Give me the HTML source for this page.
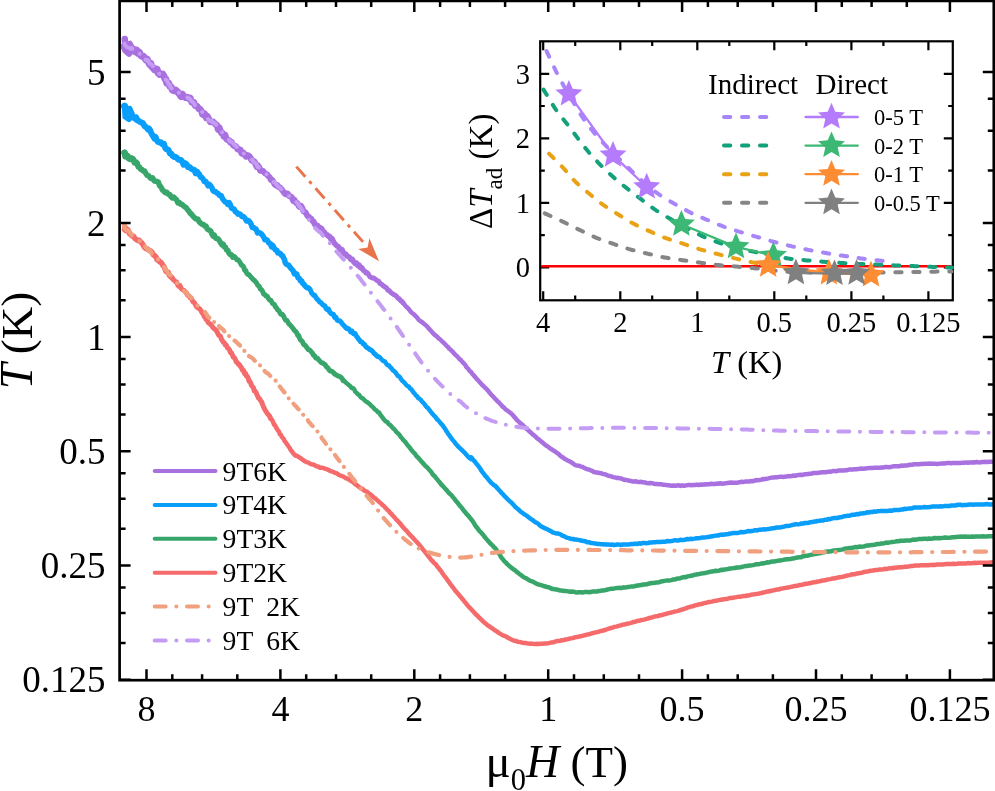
<!DOCTYPE html><html><head><meta charset="utf-8"><style>html,body{margin:0;padding:0;background:#fff;}svg{display:block;will-change:transform;}text{font-family:"Liberation Serif",serif;fill:#000;}</style></head><body>
<svg width="995" height="791" viewBox="0 0 995 791">
<rect x="0" y="0" width="995" height="791" fill="#fff"/>
<g stroke-linecap="round" fill="none"><path d="M124.8,39 L125.6,50.5 L129,53.5" stroke="#A970DF" stroke-width="6.5"/><path d="M130,43 L132.5,50" stroke="#A970DF" stroke-width="5"/><path d="M124.8,106 L125.5,116.5 L129,119" stroke="#0A9EFB" stroke-width="6.2"/><path d="M130,108 L132.5,116" stroke="#0A9EFB" stroke-width="4.5"/><path d="M124.6,152.5 L125.2,156.5" stroke="#38A66A" stroke-width="6"/><path d="M124.6,226 L125.2,230" stroke="#F0A07E" stroke-width="5.5"/></g>
<g fill="none" stroke-linejoin="round" stroke-linecap="round">
<path d="M124.5,106.3 L125.2,107.2 L126.5,110.2 L128.1,109.8" stroke="#0A9EFB" stroke-width="7.0"/>
<path d="M128.1,109.8 L129.7,110.3 L131.2,113.1 L132.6,116.6 L133.8,117.3 L135.0,118.4 L136.1,117.7" stroke="#0A9EFB" stroke-width="6.5"/>
<path d="M136.1,117.7 L137.2,120.3 L138.4,120.7 L139.6,121.6 L141.0,122.4 L142.8,123.1 L144.5,126.1 L145.9,126.9 L147.1,128.2 L148.2,129.6 L149.2,128.7 L150.3,130.6 L151.3,133.3 L152.4,135.1 L153.5,137.0 L154.5,138.6 L155.6,137.0 L156.8,140.3 L158.0,141.9 L159.4,142.4 L160.9,142.2 L162.4,144.3 L163.9,143.8 L165.3,148.1 L166.5,149.2 L167.6,149.5 L168.6,150.0 L169.9,153.6 L171.2,153.5 L172.5,155.9 L173.9,156.9 L175.3,156.8 L176.7,157.6 L178.1,159.4 L179.5,159.9 L180.9,160.0 L182.3,161.7 L183.6,164.7 L185.0,163.1 L186.5,164.2 L188.0,167.2 L189.6,166.9 L191.1,168.7 L192.7,169.4 L194.2,169.8 L195.7,173.2 L197.0,171.6 L198.2,173.7" stroke="#0A9EFB" stroke-width="6.0"/>
<path d="M198.2,173.7 L199.4,174.3 L200.6,177.2 L201.8,177.3 L203.0,178.9 L204.3,181.5 L205.6,181.3 L206.9,183.4 L208.1,185.8 L209.4,184.4 L210.6,185.6 L211.8,187.5 L213.0,190.6 L214.2,191.5 L215.5,191.5 L216.8,193.0 L218.2,193.6 L219.7,195.6 L221.1,195.4 L222.5,198.7 L223.8,200.5 L225.1,201.9 L226.5,202.4 L227.8,204.4 L229.1,202.6 L230.3,204.7 L231.6,208.2 L232.9,208.8 L234.1,209.0 L235.4,211.9 L236.7,212.2 L237.9,214.1 L239.2,213.7 L240.5,214.6 L242.0,216.5 L243.5,216.5 L245.0,218.2 L246.5,221.0 L247.8,220.4 L248.9,220.8 L250.0,222.3 L251.1,224.1 L252.2,227.4 L253.5,227.4 L254.7,228.5 L256.1,229.1 L257.5,232.9 L258.8,232.4 L260.1,233.1 L261.3,233.9 L262.5,235.3 L263.7,237.0 L264.9,239.8 L266.2,239.5 L267.5,240.5 L268.8,243.0 L270.2,243.5 L271.5,246.8 L272.8,245.5 L274.1,247.9 L275.4,249.9 L276.7,250.1 L277.9,253.1 L279.2,252.9 L280.4,253.6 L281.6,255.4 L282.7,255.8 L283.7,258.3 L284.5,259.5 L285.3,262.8 L286.3,264.2 L287.4,264.7 L288.5,264.9 L289.7,266.8 L290.8,268.2 L292.0,269.5 L293.2,270.9 L294.4,273.9 L295.6,273.3 L296.9,274.4 L298.1,278.0 L299.3,278.4 L300.4,280.9 L301.6,280.8 L302.7,283.4 L303.8,284.2 L305.0,285.9 L306.2,287.1 L307.5,287.7" stroke="#0A9EFB" stroke-width="5.5"/>
<path d="M307.5,287.7 L308.8,288.0 L310.1,289.5 L311.4,292.4 L312.5,293.9 L313.7,295.3 L314.8,295.3 L315.9,297.5 L317.1,299.2 L318.3,300.1 L319.5,301.9 L320.8,302.5 L322.1,304.0 L323.4,305.3 L324.7,305.6 L326.0,308.4 L327.3,309.7 L328.5,309.0 L329.8,312.2 L331.1,313.5 L332.3,314.2 L333.4,314.2 L334.6,317.4 L335.8,317.1 L337.1,320.1 L338.4,320.8 L339.7,320.7 L341.1,322.1 L342.5,324.2 L343.8,325.3 L345.1,326.9 L346.4,328.4 L347.8,328.3 L349.1,329.1 L350.6,331.9 L352.0,331.2 L353.5,333.8 L355.0,333.5 L356.3,336.0 L357.4,337.3 L358.4,339.0 L359.4,339.9 L360.6,341.8 L361.9,341.9 L363.2,343.9 L364.6,344.6 L365.9,346.7 L367.2,347.7 L368.6,348.4 L369.9,349.7 L371.2,350.2 L372.6,351.4 L374.0,353.4 L375.4,354.3 L376.8,356.0 L378.2,356.7" stroke="#0A9EFB" stroke-width="5.0"/>
<path d="M378.2,356.7 L379.6,357.2 L381.0,358.6 L382.4,360.4 L383.8,361.2 L385.1,361.7 L386.4,364.0 L387.8,365.2 L389.1,365.5 L390.3,367.4 L391.6,368.4 L392.8,370.3 L394.0,371.0 L395.3,372.2 L396.5,373.9 L397.7,375.8 L398.9,376.1 L400.1,377.5 L401.2,379.4 L402.5,381.0 L403.7,381.9 L404.9,383.2 L406.2,384.9 L407.5,386.0 L408.8,386.5 L410.1,388.6 L411.3,389.3 L412.4,390.8 L413.6,392.7 L414.7,393.7 L415.8,395.4 L417.0,396.2 L418.3,398.2 L419.6,398.8 L420.9,400.0 L422.1,401.6 L423.4,402.8 L424.6,404.3 L425.7,406.0 L426.8,407.2 L428.0,408.1 L429.1,409.7 L430.3,411.2 L431.4,412.6 L432.6,414.1 L433.7,415.3 L434.9,416.4 L436.1,417.9 L437.3,419.6 L438.5,420.6 L439.8,422.1 L441.0,423.6 L442.2,424.8 L443.2,426.3 L444.2,427.7 L445.2,429.0 L446.2,430.9 L447.2,432.2 L448.2,433.9 L449.2,435.0 L450.3,436.8 L451.3,438.2 L452.4,439.6 L453.5,440.9 L454.6,442.1 L455.7,443.9 L456.9,445.0 L458.1,446.6 L459.3,447.6 L460.6,448.8 L461.9,450.0 L463.3,451.6 L464.6,452.5 L465.8,454.2 L467.0,455.3 L468.2,456.8 L469.4,458.0 L470.8,459.0 L471.1,457.2 L472.4,458.7 L473.6,460.4 L474.7,461.3 L475.8,463.0 L476.9,464.2 L478.0,465.6 L479.1,466.9 L480.1,468.4 L481.2,470.4 L482.2,471.8 L483.3,473.2 L484.4,474.7 L485.5,476.2 L486.6,477.1 L487.8,478.8 L488.9,480.1 L490.1,481.5 L491.4,483.0 L492.7,484.0 L494.1,485.3 L495.5,486.0 L496.8,487.6 L498.0,488.9 L499.2,490.3 L500.4,491.5 L501.6,493.0 L502.8,494.0 L504.1,495.7 L505.3,496.7 L506.6,498.1 L507.9,499.5 L509.1,500.7 L510.4,501.7 L511.7,502.9 L513.0,504.3 L514.3,505.7 L515.6,507.2 L516.9,508.3 L518.2,509.3 L519.5,510.5 L520.9,511.9 L522.3,512.7 L523.7,513.9 L525.2,514.7 L526.7,515.8 L528.2,517.0 L529.6,518.1 L531.1,519.1 L532.6,520.0 L534.1,521.4 L535.5,522.2 L537.0,523.0 L538.5,524.0 L539.9,525.6 L541.5,526.5 L543.0,527.4 L544.6,528.1 L546.1,528.8 L547.7,529.5 L549.3,530.4 L551.0,531.2 L552.6,532.3 L554.3,532.9 L556.0,533.4 L557.8,533.4 L559.5,534.0 L561.2,534.8 L562.8,535.9 L564.4,536.3 L566.0,537.3 L567.7,537.9 L569.5,538.3 L571.2,539.0 L573.0,539.0 L574.7,539.5 L576.5,539.6 L578.3,539.9 L580.0,540.2 L581.8,540.8 L583.6,541.0 L585.3,541.3 L587.1,542.3 L588.8,542.2 L590.6,542.9 L592.4,543.1 L594.2,543.4 L595.9,543.6 L597.7,544.0 L599.5,544.1 L601.3,544.2 L603.1,544.2 L604.9,544.4 L606.7,544.6 L608.5,544.6 L610.3,544.7 L612.1,544.5 L613.9,545.0 L615.7,544.8 L617.5,544.5 L619.3,544.6 L621.1,545.0 L622.9,544.5 L624.7,544.5 L626.5,544.6 L628.3,544.6 L630.1,544.2 L631.9,544.1 L633.7,544.0 L635.5,543.6 L637.3,544.0 L639.1,543.3 L640.8,543.7 L642.6,543.1 L644.4,542.9 L646.2,543.2 L648.0,543.0 L649.8,542.5 L651.6,542.5 L653.4,542.3 L655.2,542.3 L657.0,541.9 L658.8,542.1 L660.6,542.0 L662.4,541.7 L664.2,541.7 L666.0,541.5 L667.7,541.0 L669.5,541.2 L671.3,541.0 L673.1,540.7 L674.9,540.2 L676.7,540.4 L678.5,540.4 L680.3,539.8 L682.1,539.9 L683.9,539.9 L685.7,539.5 L687.5,539.0 L689.3,539.2 L691.0,538.8 L692.8,538.9 L694.6,538.6 L696.4,538.2 L698.2,538.3 L700.0,538.0 L701.8,537.6 L703.6,537.6 L705.3,537.4 L707.1,537.1 L708.9,536.9 L710.7,536.5 L712.5,536.2 L714.2,535.9 L716.0,535.6 L717.8,535.6 L719.6,535.0 L721.4,534.6 L723.2,534.8 L724.9,534.4 L726.7,534.2 L728.5,534.0 L730.3,533.5 L732.1,533.3 L733.9,532.9 L735.6,533.1 L737.4,533.0 L739.2,532.6 L741.0,532.0 L742.8,532.3 L744.6,532.0 L746.4,531.6 L748.1,531.0 L749.9,531.3 L751.7,531.0 L753.5,530.7 L755.3,530.2 L757.1,530.4 L758.9,529.8 L760.6,529.8 L762.4,529.4 L764.2,529.3 L766.0,529.4 L767.8,529.1 L769.6,528.9 L771.4,528.4 L773.1,528.2 L774.9,528.0 L776.7,527.4 L778.5,527.4 L780.3,527.4 L782.0,527.0 L783.8,526.7 L785.6,526.1 L787.4,526.0 L789.1,525.8 L790.9,525.4 L792.7,524.9 L794.5,524.5 L796.2,524.1 L798.0,524.4 L799.8,524.1 L801.6,523.5 L803.3,523.5 L805.1,523.0 L806.9,522.9 L808.7,522.8 L810.5,522.2 L812.3,522.1 L814.0,521.6 L815.8,521.5 L817.6,520.9 L819.4,520.8 L821.1,520.5 L822.9,520.6 L824.7,519.8 L826.5,519.8 L828.2,519.1 L830.0,519.3 L831.8,518.5 L833.5,518.1 L835.3,517.9 L837.1,518.0 L838.9,517.5 L840.6,517.3 L842.4,516.8 L844.2,516.2 L845.9,516.1 L847.7,515.8 L849.5,515.8 L851.3,515.0 L853.0,514.7 L854.8,514.8 L856.6,514.0 L858.4,514.3 L860.1,513.6 L861.9,513.4 L863.7,513.2 L865.5,513.1 L867.2,512.3 L869.0,512.5 L870.8,511.9 L872.6,512.0 L874.4,511.4 L876.2,511.7 L878.0,511.2 L879.8,511.1 L881.6,510.9 L883.4,511.0 L885.2,510.9 L887.0,511.1 L888.8,510.8 L890.6,510.5 L892.3,510.7 L894.1,510.1 L895.9,509.9 L897.7,510.1 L899.5,509.9 L901.3,509.5 L903.1,509.4 L904.9,508.7 L906.6,508.9 L908.4,508.6 L910.2,508.4 L912.0,508.3 L913.8,507.6 L915.6,507.5 L917.4,507.4 L919.2,507.4 L921.0,507.4 L922.8,507.3 L924.6,507.1 L926.4,507.3 L928.2,507.2 L930.0,507.1 L931.8,506.6 L933.6,506.6 L935.4,506.6 L937.2,506.5 L939.0,506.6 L940.7,506.3 L942.5,506.4 L944.3,506.1 L946.1,505.9 L947.9,506.0 L949.7,506.0 L951.5,505.4 L953.3,505.4 L955.1,505.6 L956.9,505.0 L958.7,504.8 L960.5,504.8 L962.3,505.2 L964.1,505.0 L965.9,505.1 L967.7,504.8 L969.5,504.5 L971.3,504.6 L973.1,504.8 L974.9,504.6 L976.7,504.4 L978.5,504.5 L980.3,504.5 L982.1,504.4 L983.9,504.4 L985.7,504.2 L987.5,504.1 L989.3,504.5 L991.1,504.5 L992.5,504.3" stroke="#0A9EFB" stroke-width="4.5"/>
<path d="M124.5,152.8 L125.8,155.4 L127.2,155.9 L128.6,158.0" stroke="#38A66A" stroke-width="6.5"/>
<path d="M128.6,158.0 L130.0,159.1 L131.5,158.1 L133.0,159.0 L134.5,162.7 L135.8,162.1 L137.0,163.4" stroke="#38A66A" stroke-width="6.0"/>
<path d="M137.0,163.4 L138.2,167.0 L139.4,166.8 L140.6,169.2 L141.9,169.4 L143.2,171.1 L144.5,170.9 L145.9,173.5 L147.2,175.4 L148.5,175.6 L149.9,177.5 L151.2,178.5 L152.6,177.8 L154.1,180.8 L155.7,181.3 L157.1,181.5 L158.4,182.0 L159.5,185.8 L160.5,186.2 L161.6,188.3 L162.6,190.2 L163.9,191.1 L165.3,192.7 L166.8,192.2 L168.4,194.3 L169.8,194.4 L171.1,196.9 L172.5,198.0 L173.8,197.1 L175.1,198.4 L176.5,199.7 L177.9,202.9 L179.4,202.5 L180.8,204.2 L182.2,204.4 L183.6,206.1 L185.0,206.9 L186.4,208.0 L187.7,209.8 L188.9,211.1 L190.2,213.3 L191.4,214.0 L192.7,215.9 L193.9,217.0 L195.2,218.6 L196.5,219.0 L197.8,218.9 L199.2,221.9 L200.7,223.2 L202.1,224.2 L203.4,224.5 L204.7,226.1 L206.0,226.1 L207.2,229.1 L208.4,229.7 L209.6,230.3 L210.8,231.1 L212.0,234.4 L213.2,236.1 L214.4,235.2 L215.7,238.3 L217.0,238.5 L218.3,239.1 L219.5,240.8 L220.8,243.2 L222.0,244.8 L223.2,244.1 L224.3,246.9 L225.4,246.9 L226.6,250.0 L227.7,250.4 L229.0,253.1 L230.2,254.6 L231.5,254.7 L232.8,257.2 L234.1,256.8" stroke="#38A66A" stroke-width="5.5"/>
<path d="M234.1,256.8 L235.4,257.4 L236.8,259.8 L238.1,259.7 L239.4,261.4 L240.5,263.3 L241.6,265.2 L242.6,265.6 L243.6,266.8 L244.6,270.2 L245.7,270.4 L246.8,273.3 L248.0,274.5 L249.1,274.7 L250.3,276.3 L251.5,277.7 L252.8,279.2 L254.2,280.3 L255.4,281.5 L256.6,283.0 L257.7,285.2 L258.6,285.8 L259.6,287.1 L260.5,289.3 L261.5,289.7 L262.6,291.3 L263.7,294.2 L264.9,294.6 L266.1,296.0 L267.2,296.2 L268.4,298.4 L269.6,300.1 L270.9,300.2 L272.1,302.8 L273.3,304.2 L274.4,304.4 L275.5,307.0 L276.6,308.1 L277.7,310.0 L278.8,310.7 L279.9,312.9 L281.1,314.3 L282.2,314.2 L283.4,315.7 L284.5,318.3 L285.7,320.3 L286.8,320.3 L287.9,322.1 L288.9,323.9 L290.0,324.7 L291.2,326.2 L292.3,327.5 L293.5,329.0 L294.7,330.8 L295.8,331.6 L296.9,333.2 L297.8,335.5 L298.7,335.6 L299.6,338.2 L300.6,340.1 L301.6,340.7 L302.6,342.0 L303.7,344.6 L304.8,345.0 L305.9,346.2 L307.1,348.1 L308.4,349.8 L309.7,349.9 L311.0,351.6 L312.3,352.9 L313.4,355.2 L314.6,355.8 L315.8,357.9 L317.1,358.0 L318.4,359.5 L319.9,361.1 L321.3,362.6 L322.7,363.0 L324.0,363.8 L325.3,364.9 L326.5,367.0 L327.8,367.7 L329.1,369.9 L330.4,371.1 L331.8,371.2 L333.3,372.4 L334.8,374.3 L336.3,374.9 L337.9,376.0 L339.4,376.3 L340.8,377.1 L342.1,378.6 L343.3,380.7" stroke="#38A66A" stroke-width="5.0"/>
<path d="M343.3,380.7 L344.5,381.2 L345.9,382.6 L347.3,383.8 L348.7,384.9 L350.1,386.0 L351.5,387.9 L352.8,388.0 L354.1,389.1 L355.3,391.7 L356.6,392.9 L357.8,394.3 L359.1,394.9 L360.4,396.8 L361.6,398.0 L363.0,398.4 L364.4,400.1 L365.8,401.3 L367.2,402.2 L368.6,403.2 L369.9,404.2 L371.1,405.6 L372.4,406.7 L373.6,407.8 L375.0,409.6 L376.4,410.4 L377.8,412.1 L379.1,412.5 L380.3,414.8 L381.4,415.9 L382.5,417.6 L383.6,419.0 L384.8,420.4 L386.0,421.4 L387.3,422.1 L388.6,424.0 L389.9,424.7 L391.2,426.1 L392.5,427.7 L393.8,428.8 L395.0,430.0 L396.2,431.8 L397.4,432.9 L398.6,434.0 L399.8,435.3 L400.9,437.2 L402.1,438.3 L403.2,439.9 L404.3,441.0 L405.5,442.2 L406.6,443.9 L407.8,445.5 L408.9,446.4 L410.1,448.2 L411.2,449.7 L412.3,451.0 L413.5,452.4 L414.6,453.3 L415.8,455.1 L416.9,456.6 L418.1,457.5 L419.3,459.0 L420.5,460.3 L421.7,461.8 L422.9,463.1 L424.1,464.4 L425.3,465.9 L426.6,466.8 L427.8,468.1 L429.0,469.5 L430.2,470.8 L431.4,472.2 L432.5,474.1 L433.7,475.4 L434.8,476.3 L436.0,478.0 L437.1,479.2 L438.2,480.6 L439.4,482.0 L440.5,483.6 L441.7,484.9 L442.9,486.2 L444.1,487.4 L445.3,488.8 L446.6,490.0 L447.8,491.6 L449.0,493.0 L450.2,494.1 L451.4,495.2 L452.6,496.7 L453.8,498.1 L455.0,499.6 L456.1,501.1 L457.3,502.3 L458.4,503.9 L459.5,505.2 L460.6,506.5 L461.8,507.9 L462.9,509.4 L464.0,510.9 L465.2,512.1 L466.3,513.7 L467.5,514.9 L468.7,516.1 L469.8,517.7 L471.0,519.2 L472.0,520.2 L473.1,521.9 L474.1,523.4 L475.1,525.2 L476.1,526.7 L477.2,527.8 L478.3,529.5 L479.4,530.9 L480.6,531.9 L481.8,533.4 L483.0,534.6 L484.1,536.3 L485.3,537.6 L486.5,539.1 L487.6,540.4 L488.8,541.7 L490.0,543.1 L491.2,544.3 L492.5,545.4 L493.7,547.0 L494.9,547.9 L496.1,549.4 L497.2,551.2 L498.2,552.3 L499.1,553.8 L500.1,555.3 L501.1,557.3 L502.1,558.4 L503.2,559.7 L504.5,561.5 L505.7,562.3 L507.1,564.0 L508.4,565.1 L509.8,566.4 L511.1,567.6 L512.5,568.5 L514.0,569.7 L515.4,570.4 L516.8,572.0 L518.2,572.9 L519.6,574.2 L521.0,574.9 L522.5,576.3 L524.0,577.4 L525.5,577.8 L527.1,578.9 L528.7,579.9 L530.3,580.9 L531.9,581.3 L533.5,582.1 L535.1,582.9 L536.8,583.8 L538.5,584.5 L540.2,584.9 L541.9,585.4 L543.6,586.0 L545.3,586.5 L547.1,587.0 L548.8,587.3 L550.5,588.1 L552.2,588.9 L554.0,589.0 L555.7,589.6 L557.5,589.6 L559.3,590.3 L561.0,590.6 L562.8,590.7 L564.6,590.9 L566.4,591.1 L568.2,591.4 L570.0,591.8 L571.8,591.5 L573.5,591.7 L575.3,592.2 L577.1,592.5 L578.9,592.3 L580.7,592.3 L582.5,592.5 L584.3,592.1 L586.1,592.1 L587.9,592.0 L589.7,592.2 L591.5,591.8 L593.3,591.6 L595.1,591.6 L596.9,591.5 L598.7,590.9 L600.4,590.9 L602.2,590.4 L604.0,590.4 L605.8,590.0 L607.5,589.5 L609.3,589.1 L611.1,588.7 L612.9,588.7 L614.7,588.4 L616.4,588.1 L618.2,588.0 L620.0,587.8 L621.8,587.9 L623.6,587.3 L625.4,587.6 L627.2,587.1 L629.0,586.9 L630.7,586.6 L632.5,586.5 L634.3,586.2 L636.1,585.8 L637.9,585.5 L639.6,585.3 L641.4,585.1 L643.2,584.5 L645.0,584.5 L646.7,584.3 L648.5,583.7 L650.3,583.3 L652.1,583.0 L653.8,583.0 L655.6,582.6 L657.4,582.5 L659.2,582.2 L660.9,581.5 L662.7,581.2 L664.5,580.9 L666.3,580.6 L668.0,580.6 L669.8,580.4 L671.6,580.1 L673.4,579.4 L675.1,579.4 L676.9,578.7 L678.7,578.4 L680.4,578.2 L682.2,577.5 L683.9,577.1 L685.7,577.2 L687.5,576.4 L689.2,576.1 L691.0,575.8 L692.7,575.5 L694.5,574.7 L696.2,574.5 L698.0,574.2 L699.8,573.9 L701.5,573.4 L703.3,573.3 L705.1,573.1 L706.8,572.5 L708.6,572.2 L710.4,571.7 L712.1,571.4 L713.9,571.3 L715.7,570.7 L717.5,570.9 L719.2,570.6 L721.0,569.8 L722.8,570.0 L724.6,569.4 L726.3,569.3 L728.1,569.0 L729.9,568.5 L731.7,568.4 L733.5,568.1 L735.2,568.0 L737.0,567.4 L738.8,567.4 L740.6,567.2 L742.4,566.8 L744.1,566.4 L745.9,565.9 L747.7,565.9 L749.5,565.5 L751.2,565.4 L753.0,565.1 L754.8,564.7 L756.6,564.2 L758.3,564.2 L760.1,563.9 L761.9,563.3 L763.7,563.4 L765.4,562.9 L767.2,562.3 L769.0,562.5 L770.8,561.7 L772.5,561.5 L774.3,561.5 L776.1,561.1 L777.9,560.8 L779.6,560.6 L781.4,560.2 L783.2,559.9 L785.0,559.5 L786.8,559.2 L788.5,559.3 L790.3,559.0 L792.1,558.6 L793.9,558.4 L795.6,557.9 L797.4,557.5 L799.2,557.3 L801.0,557.2 L802.7,556.3 L804.5,556.2 L806.2,555.7 L808.0,555.7 L809.8,555.0 L811.5,554.7 L813.3,554.3 L815.0,554.1 L816.8,553.8 L818.6,553.3 L820.4,553.2 L822.1,552.5 L823.9,552.2 L825.7,551.8 L827.4,551.5 L829.2,551.6 L831.0,551.3 L832.8,550.7 L834.5,550.4 L836.3,550.2 L838.1,550.1 L839.9,549.9 L841.6,549.6 L843.4,549.2 L845.2,548.6 L847.0,548.5 L848.8,548.1 L850.5,548.1 L852.3,547.8 L854.1,547.3 L855.9,547.1 L857.7,547.2 L859.4,546.5 L861.2,546.7 L863.0,546.5 L864.8,546.2 L866.6,545.6 L868.4,545.5 L870.1,545.2 L871.9,545.0 L873.7,544.9 L875.5,544.5 L877.3,544.0 L879.0,544.1 L880.8,543.6 L882.6,543.4 L884.4,543.2 L886.2,542.5 L887.9,542.7 L889.7,542.4 L891.5,542.1 L893.3,541.9 L895.1,541.6 L896.9,541.2 L898.7,541.2 L900.4,540.8 L902.2,540.8 L904.0,540.7 L905.8,540.5 L907.6,540.4 L909.4,540.4 L911.2,540.2 L913.0,539.6 L914.8,539.8 L916.6,539.6 L918.4,539.1 L920.2,539.1 L922.0,538.9 L923.8,538.7 L925.6,538.8 L927.3,539.0 L929.1,538.5 L930.9,538.7 L932.7,538.5 L934.5,538.0 L936.3,538.3 L938.1,538.1 L939.9,538.2 L941.7,537.9 L943.5,537.8 L945.3,537.5 L947.1,537.7 L948.9,537.7 L950.7,537.5 L952.5,537.2 L954.3,537.3 L956.1,537.1 L957.9,536.8 L959.7,536.7 L961.5,536.6 L963.3,536.7 L965.1,536.6 L966.9,536.7 L968.7,536.8 L970.5,536.7 L972.3,536.6 L974.1,536.7 L975.9,536.4 L977.7,536.5 L979.5,536.6 L981.3,536.4 L983.1,536.2 L984.9,536.6 L986.7,536.4 L988.5,536.2 L990.3,536.2 L992.1,536.2 L992.5,536.3" stroke="#38A66A" stroke-width="4.5"/>
<path d="M124.5,46.5 L125.3,48.2 L126.5,46.9 L128.0,46.3" stroke="#A970DF" stroke-width="8.0"/>
<path d="M128.0,46.3 L129.8,45.4 L131.6,49.4 L133.2,49.2 L134.8,51.3 L136.4,50.5" stroke="#A970DF" stroke-width="7.5"/>
<path d="M136.4,50.5 L137.9,53.2 L139.3,52.1 L140.8,55.5 L142.1,56.4 L143.4,56.2 L144.7,58.0 L146.0,59.9 L147.2,59.1 L148.4,62.0 L149.6,64.5 L150.8,63.5 L152.0,67.1 L153.2,67.9 L154.5,69.8 L155.8,69.0 L157.1,69.2 L158.4,73.4 L159.8,74.6 L161.2,74.2 L162.5,73.9 L163.8,75.7 L164.9,78.9 L165.9,79.0 L166.8,83.2 L167.8,83.3 L168.7,83.2 L169.8,86.5 L171.0,86.7 L172.4,90.1 L174.0,90.8 L175.6,90.0 L177.1,91.5 L178.5,92.9 L179.8,94.6 L181.0,96.5" stroke="#A970DF" stroke-width="7.0"/>
<path d="M181.0,96.5 L182.4,93.9 L183.9,96.2 L185.6,97.8 L187.3,97.1 L189.0,98.9 L190.4,98.0 L191.6,102.4 L192.8,102.4 L194.0,102.2 L195.1,105.7 L196.3,105.7 L197.5,106.5 L198.8,109.0 L200.0,109.0 L201.2,110.6 L202.4,114.4 L203.7,115.1 L204.9,113.8 L206.2,118.0 L207.5,116.3 L208.8,118.7 L210.2,121.9 L211.7,121.9 L213.2,121.8 L214.6,123.2 L215.8,124.6 L216.9,125.0 L218.1,129.6 L219.2,127.5 L220.3,130.3 L221.4,132.9 L222.6,133.0 L223.8,136.4 L225.1,135.0 L226.4,138.9 L227.7,139.9 L229.0,140.3 L230.3,142.4 L231.5,142.0 L232.8,144.7 L234.1,145.8 L235.4,146.1 L236.6,147.2 L237.8,149.4 L239.1,149.6 L240.3,149.8 L241.7,153.3 L243.1,152.7 L244.6,154.5 L246.1,156.5 L247.6,155.4 L249.0,156.1 L250.3,157.6 L251.7,160.4 L253.0,160.8 L254.3,161.7 L255.5,163.7 L256.7,166.6 L257.9,165.7 L259.1,167.6 L260.4,170.4" stroke="#A970DF" stroke-width="6.5"/>
<path d="M260.4,170.4 L261.7,170.8 L263.0,170.9 L264.4,172.7 L265.7,173.9 L267.0,174.1 L268.3,176.1 L269.6,177.1 L270.9,180.0 L272.1,179.8 L273.4,182.1 L274.7,184.4 L275.9,185.5 L277.2,185.0 L278.5,187.0 L279.8,187.4 L281.1,188.8 L282.4,190.3 L283.8,192.5 L285.2,194.1 L286.5,193.3 L287.8,193.6 L289.2,196.2 L290.5,196.2 L291.8,197.3 L293.2,200.8 L294.6,199.9 L296.0,202.9 L297.4,203.0 L298.6,206.0 L299.9,207.0 L301.1,206.0 L302.2,207.8 L303.4,211.3 L304.6,211.7 L305.7,212.6 L306.9,215.0 L308.0,216.5 L309.1,217.0 L310.2,218.4 L311.3,218.8 L312.4,220.9 L313.6,221.6 L314.8,224.3 L316.1,225.5 L317.4,225.5 L318.7,228.0 L320.1,227.8 L321.5,228.9" stroke="#A970DF" stroke-width="6.0"/>
<path d="M321.5,228.9 L323.0,231.4 L324.4,232.0 L325.7,234.3 L327.1,234.9 L328.3,236.3 L329.6,236.2 L330.8,239.2 L332.1,238.7 L333.3,241.3 L334.5,243.4 L335.7,244.7 L336.9,246.0 L338.1,246.3 L339.3,248.1 L340.6,249.6 L341.9,249.4 L343.2,252.5 L344.5,253.7 L345.7,253.9 L347.0,255.9 L348.3,256.5 L349.6,257.4 L350.9,259.5 L352.3,259.3 L353.7,261.9 L355.1,263.4 L356.5,263.1 L357.9,265.6 L359.2,265.1 L360.5,267.8 L361.9,267.9" stroke="#A970DF" stroke-width="5.5"/>
<path d="M361.9,267.9 L363.2,270.5 L364.5,270.7 L365.7,272.9 L367.0,272.6 L368.3,273.9 L369.6,276.5 L371.0,277.3 L372.5,278.1 L374.0,278.1 L375.6,279.4 L377.1,280.7 L378.6,281.1 L380.1,283.6 L381.6,284.3 L383.0,285.7 L384.3,286.5 L385.6,287.3 L386.8,288.2 L388.1,290.4 L389.4,290.7 L390.8,292.5 L392.2,293.5 L393.7,294.6 L395.1,295.1 L396.5,296.3 L397.8,298.1 L399.2,298.7 L400.5,300.5 L401.8,301.3 L403.0,302.8" stroke="#A970DF" stroke-width="5.0"/>
<path d="M403.0,302.8 L404.2,304.0 L405.4,305.9 L406.6,307.0 L407.8,308.1 L409.0,309.4 L410.3,311.1 L411.6,312.7 L412.8,313.5 L414.1,314.5 L415.4,315.9 L416.7,317.1 L417.9,318.7 L419.2,320.2 L420.5,321.2 L421.9,322.0 L423.3,323.2 L424.8,324.4 L426.2,325.6 L427.5,326.8 L428.7,328.6 L429.9,329.6 L431.1,331.0 L432.3,332.4 L433.5,333.6 L434.8,335.0 L436.2,335.9 L437.5,337.2 L438.9,338.6 L440.2,339.4 L441.5,340.9 L442.8,342.0 L444.0,343.1 L445.3,344.3 L446.6,346.0 L447.9,346.9 L449.1,348.6 L450.4,349.5 L451.7,350.9 L452.9,352.0 L454.2,353.6 L455.5,355.0 L456.7,355.9 L458.0,357.4 L459.3,358.9 L460.6,359.8 L461.8,361.2 L463.1,362.6 L464.4,364.0 L465.4,365.0 L466.2,366.9 L467.3,367.9 L468.5,369.3 L469.8,371.1 L471.0,371.9 L472.2,373.7 L473.4,375.0 L474.5,376.3 L475.7,377.7 L476.8,379.1 L478.0,380.2 L479.2,381.7 L480.4,382.8 L481.7,384.5 L483.0,385.7 L484.3,386.9 L485.5,387.9 L486.8,389.4 L488.0,390.6 L489.2,392.2 L490.4,393.6 L491.6,395.1 L492.8,396.2 L494.0,397.5 L495.2,398.9 L496.4,399.9 L497.6,401.5 L498.9,402.4 L500.1,403.9 L501.4,405.1 L502.7,406.8 L504.0,407.5 L505.3,409.2 L506.8,410.3 L508.2,411.1 L509.6,412.4 L511.0,413.2 L512.2,414.5 L513.4,415.8 L514.6,417.2 L515.8,418.5 L517.0,420.3 L518.3,421.1 L519.6,422.6 L521.0,423.6 L522.3,424.7 L523.7,426.1 L525.0,427.2 L526.4,428.8 L527.7,429.7 L529.0,431.0 L530.4,432.2 L531.7,433.5 L533.0,434.6 L534.4,435.6 L535.7,436.7 L537.1,438.4 L538.5,439.1 L539.9,440.4 L541.3,441.7 L542.7,442.7 L544.1,444.0 L545.5,445.1 L546.9,446.0 L548.4,446.9 L549.9,448.2 L551.4,449.1 L552.9,450.2 L554.4,451.0 L555.9,452.1 L557.4,453.2 L558.8,454.2 L560.1,455.6 L561.5,456.7 L563.0,457.4 L564.5,458.8 L566.1,459.6 L567.6,460.5 L569.2,461.1 L570.7,462.0 L572.2,462.9 L573.7,464.0 L575.3,465.1 L577.0,465.5 L578.8,465.7 L580.5,466.3 L582.2,466.8 L583.9,467.7 L585.6,468.5 L587.2,469.3 L588.9,469.5 L590.6,470.3 L592.2,470.9 L593.9,472.0 L595.7,472.4 L597.4,472.5 L599.2,473.1 L601.0,473.2 L602.7,473.9 L604.4,474.2 L606.1,474.7 L607.8,475.6 L609.6,476.0 L611.3,476.4 L613.0,477.1 L614.8,477.4 L616.5,477.9 L618.3,477.8 L620.0,478.3 L621.8,478.7 L623.5,479.5 L625.3,480.0 L627.0,480.0 L628.8,480.7 L630.5,480.8 L632.3,481.4 L634.1,481.6 L635.9,481.3 L637.7,481.9 L639.5,481.9 L641.3,481.8 L643.0,482.3 L644.8,482.4 L646.6,483.0 L648.4,483.3 L650.2,483.0 L652.0,483.2 L653.8,483.7 L655.6,484.0 L657.3,484.1 L659.1,484.2 L660.9,484.2 L662.7,484.7 L664.5,484.8 L666.3,485.1 L668.1,485.2 L669.9,485.4 L671.7,485.7 L673.5,485.6 L675.3,485.8 L677.1,485.5 L678.9,485.3 L680.7,485.9 L682.5,485.3 L684.3,485.8 L686.1,485.4 L687.9,485.1 L689.7,485.1 L691.5,485.3 L693.3,485.0 L695.1,485.0 L696.8,484.6 L698.6,485.0 L700.4,484.6 L702.2,484.8 L704.0,484.3 L705.8,484.5 L707.6,484.3 L709.4,484.2 L711.2,483.8 L713.0,484.0 L714.8,484.1 L716.6,483.6 L718.4,483.7 L720.2,483.3 L722.0,483.7 L723.8,483.6 L725.6,483.3 L727.4,483.1 L729.2,482.7 L731.0,482.6 L732.8,482.8 L734.6,482.7 L736.4,482.7 L738.2,482.5 L740.0,482.1 L741.8,481.8 L743.5,481.9 L745.3,481.6 L747.1,481.5 L748.9,481.5 L750.7,481.1 L752.5,481.2 L754.3,480.8 L756.1,480.1 L757.8,480.3 L759.6,480.0 L761.4,479.6 L763.2,479.0 L764.9,479.2 L766.7,478.7 L768.5,478.4 L770.3,477.9 L772.1,477.6 L773.9,477.4 L775.6,477.3 L777.4,477.2 L779.2,476.9 L781.0,476.6 L782.8,476.9 L784.6,476.7 L786.4,476.6 L788.2,476.1 L790.0,476.2 L791.8,476.0 L793.6,475.5 L795.3,475.8 L797.1,475.2 L798.9,474.9 L800.7,474.7 L802.5,475.0 L804.3,474.3 L806.1,474.2 L807.9,474.1 L809.6,473.7 L811.4,473.7 L813.2,473.1 L815.0,473.1 L816.8,473.0 L818.6,472.8 L820.4,472.6 L822.2,472.2 L824.0,472.3 L825.7,472.3 L827.5,471.8 L829.3,471.7 L831.1,471.6 L832.9,471.1 L834.7,471.0 L836.5,471.2 L838.3,470.6 L840.1,470.5 L841.9,470.4 L843.7,470.6 L845.5,470.2 L847.2,470.2 L849.0,469.6 L850.8,469.5 L852.6,469.6 L854.4,469.3 L856.2,469.3 L858.0,469.1 L859.8,468.7 L861.6,468.6 L863.4,468.7 L865.2,468.6 L867.0,468.2 L868.8,468.1 L870.6,467.9 L872.4,467.9 L874.2,467.8 L876.0,467.7 L877.8,467.7 L879.6,467.8 L881.4,467.6 L883.2,467.5 L884.9,467.1 L886.7,467.1 L888.5,467.2 L890.3,467.1 L892.1,466.6 L893.9,466.3 L895.7,466.2 L897.5,466.3 L899.3,466.3 L901.1,465.6 L902.9,465.8 L904.7,465.5 L906.5,465.5 L908.2,465.3 L910.0,464.6 L911.8,464.9 L913.6,464.3 L915.4,464.2 L917.2,464.2 L919.0,464.2 L920.8,463.9 L922.6,463.9 L924.4,463.8 L926.2,463.8 L928.0,463.7 L929.8,463.6 L931.6,463.7 L933.4,463.7 L935.2,463.7 L937.0,463.9 L938.8,463.7 L940.6,463.6 L942.4,463.4 L944.2,463.5 L946.0,463.2 L947.8,463.1 L949.6,463.0 L951.4,463.3 L953.2,462.9 L955.0,462.9 L956.8,462.9 L958.6,462.9 L960.4,462.9 L962.2,462.8 L964.0,462.8 L965.8,462.4 L967.6,462.8 L969.4,462.6 L971.2,462.4 L973.0,462.3 L974.8,462.4 L976.6,462.0 L978.4,462.3 L980.2,462.4 L982.0,462.0 L983.8,462.0 L985.6,461.8 L987.4,462.1 L989.2,461.7 L991.0,461.7 L992.5,461.8" stroke="#A970DF" stroke-width="4.5"/>
<path d="M124.5,43.6 L125.2,45.3 L126.1,46.3 L127.2,47.3 L128.6,47.7 L130.1,48.7 L131.6,47.9 L132.4,49.0M139.7,53.7 L139.7,53.7M145.6,59.7 L146.0,60.0 L147.0,60.7 L148.0,60.0 L149.0,62.4 L150.0,63.9 L151.0,64.2 L152.0,65.1 L152.8,66.1M159.2,73.8 L159.2,73.8M165.8,79.7 L166.5,80.2 L167.3,81.2 L168.1,82.9 L168.9,84.6 L169.8,84.8 L170.7,87.5 L171.7,88.4M178.8,92.7 L178.8,92.7M187.4,97.5 L188.2,97.9 L189.5,98.6 L190.6,99.9 L191.6,101.3 L192.6,101.8 L193.6,102.8 L194.6,104.4 L194.9,105.1M202.2,112.0 L202.2,112.0M208.1,119.2 L209.0,120.5 L210.2,121.0 L211.5,120.5 L212.7,122.4 L213.9,122.5 L215.0,123.4 L216.0,124.2 L216.2,124.8M222.1,132.3 L222.1,132.3M228.9,139.8 L229.0,140.0 L230.1,141.6 L231.1,141.8 L232.2,142.1 L233.2,143.4 L234.3,144.8 L235.4,145.3 L236.4,146.4 L236.7,146.9M243.7,153.6 L243.7,153.6M251.8,159.7 L252.3,159.9 L253.4,161.4 L254.5,162.4 L255.5,163.2 L256.5,164.3 L257.5,166.9 L258.5,166.9 L258.8,167.3M266.5,174.3 L266.5,174.3M273.5,182.1 L273.6,182.1 L274.7,182.2 L275.7,183.7 L276.8,184.5 L277.8,186.4 L278.9,187.0 L280.0,188.0 L281.1,188.8 L281.4,189.1M289.1,195.9 L289.1,195.9M296.5,202.2 L297.0,202.5 L298.0,203.9 L298.9,205.5 L299.8,206.7 L300.7,207.7 L301.5,208.9 L302.4,210.3 L302.8,211.1M308.9,219.7 L308.9,219.8M315.1,228.0 L315.7,228.4 L316.7,229.7 L317.8,230.5 L318.9,231.7 L320.0,231.9 L321.0,233.1 L322.0,234.6 L322.8,235.6M329.8,243.3 L329.8,243.3M336.5,251.5 L336.6,251.6 L337.6,252.8 L338.6,253.8 L339.6,255.0 L340.6,256.1 L341.6,257.2 L342.6,258.4 L343.6,259.5 L343.8,259.7M350.8,267.7 L350.8,267.7M357.7,275.8 L358.3,276.5 L359.2,277.6 L360.2,278.8 L361.1,280.0 L362.0,281.2 L362.9,282.4 L363.8,283.6 L364.5,284.4M370.9,292.8 L370.9,292.8M377.5,301.2 L377.6,301.4 L378.5,302.5 L379.5,303.7 L380.4,304.9 L381.3,306.1 L382.2,307.3 L383.1,308.5 L384.0,309.7 L384.2,309.9M390.6,318.4 L390.6,318.4M396.8,326.9 L397.4,327.8 L398.2,329.0 L399.1,330.2 L399.9,331.5 L400.8,332.7 L401.6,334.0 L402.5,335.2 L403.0,336.0M409.1,344.7 L409.1,344.7M415.2,353.4 L415.3,353.7 L416.2,354.9 L417.0,356.1 L417.9,357.3 L418.8,358.6 L419.6,359.8 L420.5,361.0 L421.4,362.2 L421.5,362.4M428.1,370.7 L428.1,370.7M435.0,378.8 L435.7,379.6 L436.7,380.7 L437.8,381.8 L438.8,382.9 L439.8,383.9 L440.9,385.0 L442.0,386.1 L442.6,386.7M450.3,394.0 L450.3,394.0M458.7,400.5 L459.0,400.6 L460.3,401.5 L461.4,402.4 L462.5,403.4 L463.5,404.5 L464.6,405.5 L465.8,406.5 L467.0,407.4 L467.1,407.5M476.0,413.2 L476.0,413.2M485.4,418.2 L486.5,418.6 L487.8,419.2 L489.2,419.7 L490.6,420.3 L492.1,420.8 L493.5,421.3 L494.9,421.7 L495.7,422.0M505.9,424.8 L505.9,424.8M516.3,426.8 L516.8,426.8 L518.3,427.1 L519.8,427.2 L521.2,427.4 L522.7,427.6 L524.2,427.7 L525.7,427.9 L527.2,428.0 L527.3,428.0M537.9,428.5 L537.9,428.5M548.5,428.8 L549.7,428.8 L551.2,428.8 L552.7,428.8 L554.2,428.8 L555.7,428.8 L557.2,428.8 L558.7,428.8 L559.5,428.8M570.1,428.6 L570.1,428.6M580.7,428.3 L581.2,428.3 L582.7,428.3 L584.2,428.2 L585.7,428.2 L587.2,428.2 L588.7,428.2 L590.2,428.1 L591.7,428.1M602.3,427.9 L602.3,427.9M612.9,427.8 L614.2,427.8 L615.7,427.8 L617.2,427.8 L618.7,427.8 L620.2,427.8 L621.7,427.8 L623.2,427.8 L623.9,427.8M634.5,427.9 L634.5,427.9M645.1,428.0 L645.7,428.0 L647.2,428.0 L648.7,428.0 L650.2,428.0 L651.7,428.0 L653.2,428.0 L654.7,428.1 L656.1,428.1M666.7,428.2 L666.7,428.2M677.3,428.3 L678.7,428.4 L680.2,428.4 L681.7,428.4 L683.2,428.4 L684.7,428.4 L686.2,428.5 L687.7,428.5 L688.3,428.5M698.9,428.7 L698.9,428.7M709.5,428.8 L710.2,428.8 L711.7,428.9 L713.2,428.9 L714.7,428.9 L716.2,428.9 L717.7,429.0 L719.2,429.0 L720.5,429.0M731.1,429.2 L731.1,429.2M741.7,429.4 L743.2,429.5 L744.7,429.5 L746.2,429.6 L747.7,429.6 L749.2,429.7 L750.7,429.7 L752.2,429.8 L752.7,429.8M763.3,430.3 L763.3,430.3M773.9,430.6 L774.7,430.6 L776.2,430.6 L777.7,430.6 L779.2,430.7 L780.7,430.7 L782.2,430.7 L783.7,430.8 L784.9,430.8M795.5,430.9 L795.5,430.9M806.1,431.0 L806.1,431.0 L807.6,431.1 L809.1,431.1 L810.6,431.1 L812.1,431.1 L813.6,431.1 L815.1,431.1 L816.6,431.1 L817.1,431.2M827.7,431.3 L827.7,431.3M838.3,431.4 L839.1,431.4 L840.6,431.4 L842.1,431.4 L843.6,431.5 L845.1,431.5 L846.6,431.5 L848.1,431.5 L849.3,431.5M859.9,431.7 L859.9,431.7M870.5,431.8 L870.6,431.8 L872.1,431.9 L873.6,431.9 L875.1,431.9 L876.6,431.9 L878.1,431.9 L879.6,431.9 L881.1,431.9 L881.5,432.0M892.1,432.0 L892.1,432.0M902.7,432.1 L903.6,432.1 L905.1,432.2 L906.6,432.2 L908.1,432.2 L909.6,432.2 L911.1,432.2 L912.6,432.2 L913.7,432.2M924.3,432.3 L924.3,432.3M934.9,432.4 L935.1,432.4 L936.6,432.4 L938.1,432.4 L939.6,432.4 L941.1,432.4 L942.6,432.4 L944.1,432.4 L945.6,432.5 L945.9,432.5M956.5,432.5 L956.5,432.5M967.1,432.6 L968.1,432.6 L969.6,432.6 L971.1,432.6 L972.6,432.7 L974.1,432.7 L975.6,432.7 L977.1,432.7 L978.1,432.7M988.7,432.8 L988.7,432.8" stroke="#C49CF3" stroke-width="4"/>
<path d="M124.5,229.4 L125.8,230.6 L127.1,229.2 L128.4,230.5 L129.7,233.9 L131.0,234.9 L132.2,236.0 L133.5,236.3 L134.8,238.3 L136.2,239.5 L137.7,240.4 L139.2,240.2 L140.7,242.0 L142.0,243.1 L143.3,245.3 L144.5,247.4 L145.7,248.6 L147.0,248.7 L148.3,249.7 L149.5,250.5 L150.8,251.1 L152.1,252.4 L153.4,254.9 L154.7,255.7 L156.0,257.1 L157.2,259.8 L158.4,260.2 L159.5,261.7 L160.6,262.2 L161.7,263.1 L162.8,265.4 L163.9,266.3 L164.9,268.7 L166.0,271.4 L167.1,272.0 L168.2,272.2 L169.4,275.4 L170.5,276.5 L171.8,277.6" stroke="#F56B6B" stroke-width="5.5"/>
<path d="M171.8,277.6 L173.0,279.4 L174.2,280.3 L175.4,281.7 L176.6,282.0 L177.7,285.0 L178.9,286.3 L180.0,285.7 L181.2,288.5 L182.5,289.7 L183.8,290.3 L185.1,291.7 L186.4,292.9 L187.6,295.3 L188.8,295.6 L190.0,297.7 L191.2,298.0 L192.3,300.6 L193.3,302.1 L194.3,302.6 L195.3,304.4 L196.4,306.6 L197.5,307.5 L198.7,308.3 L199.9,309.1 L201.0,310.7 L202.1,313.0 L203.1,313.3 L204.1,316.5 L205.1,316.6 L206.0,319.5 L207.1,319.6 L208.2,322.5 L209.3,323.4 L210.5,324.3 L211.7,325.7 L212.8,327.3 L214.0,328.6 L215.2,329.3 L216.3,330.5 L217.4,332.5 L218.5,334.9 L219.5,335.7 L220.5,336.1 L221.4,339.2 L222.3,340.5 L223.3,342.5 L224.2,342.5 L225.3,345.1 L226.3,345.1 L227.4,347.8 L228.5,348.5 L229.5,349.9 L230.5,352.7 L231.4,352.7 L232.4,355.0 L233.3,357.2 L234.3,357.6 L235.2,359.0 L236.2,361.8 L237.3,362.4 L238.4,364.4 L239.4,364.5 L240.5,366.6 L241.5,367.7 L242.5,370.2 L243.6,370.5 L244.6,373.7 L245.5,373.4 L246.5,376.3 L247.4,376.5 L248.3,378.5 L249.1,381.2 L249.9,381.6 L250.7,383.2 L251.6,385.7 L252.5,386.7 L253.4,387.7 L254.2,391.0 L255.1,391.0 L256.0,392.4 L256.9,394.5 L257.8,396.5 L258.7,398.3 L259.7,398.7 L260.6,400.7 L261.5,401.7 L262.4,404.0 L263.2,406.2 L264.0,407.7 L264.8,409.6 L265.7,410.9 L266.7,412.6 L267.6,413.9 L268.6,415.0 L269.6,416.1 L270.5,418.4" stroke="#F56B6B" stroke-width="5.0"/>
<path d="M270.5,418.4 L271.4,419.3 L272.4,420.5 L273.3,422.6 L274.2,424.9 L275.1,425.2 L276.0,427.5 L277.0,428.7 L277.9,430.5 L278.9,431.4 L279.8,434.2 L280.8,434.6 L281.7,436.7 L282.7,437.9 L283.7,438.8 L284.6,441.2 L285.6,442.1 L286.5,443.5 L287.5,444.9 L288.6,446.6 L289.7,447.9 L290.8,450.2 L291.9,451.3 L293.2,453.4 L294.4,454.5 L295.8,455.8 L297.2,455.8 L298.7,457.2 L300.2,457.8 L301.8,459.2 L303.3,460.2 L304.9,461.3 L306.4,462.1 L308.0,462.4 L309.6,463.4 L311.2,464.3 L312.9,464.4 L314.6,465.1 L316.2,466.2 L318.0,466.4 L319.7,467.7 L321.4,467.6 L323.1,467.9 L324.8,468.6 L326.6,469.2 L328.2,469.8 L329.9,470.8 L331.6,471.4 L333.3,471.9 L334.9,472.9 L336.6,473.2 L338.3,474.6 L339.9,475.3 L341.5,475.9 L343.1,476.5 L344.7,477.4 L346.2,478.4 L347.8,478.8 L349.4,480.0 L350.9,481.0 L352.4,481.7 L353.9,482.7 L355.3,484.3 L356.8,485.1 L358.2,486.3 L359.7,487.6 L361.2,488.4 L362.7,489.1 L364.2,490.7 L365.7,491.2 L367.2,491.9 L368.7,493.5 L370.1,494.1 L371.5,495.3 L373.0,496.8 L374.3,497.9 L375.7,498.6 L377.0,500.1 L378.4,501.2 L379.7,502.5 L381.1,503.5 L382.4,505.0 L383.7,505.9 L385.0,507.3 L386.3,508.6 L387.6,510.1 L388.8,511.0 L390.0,512.7 L391.3,513.7 L392.5,515.3 L393.7,516.5 L394.9,517.9 L396.1,519.4 L397.3,520.5 L398.5,521.8 L399.7,523.1 L400.9,524.4 L402.1,526.1 L403.3,527.3 L404.5,528.8 L405.7,530.0 L406.9,531.1 L408.1,532.7 L409.3,534.1 L410.5,535.4 L411.8,536.6 L413.0,537.9 L414.2,539.2 L415.4,540.7 L416.6,541.8 L417.9,543.2 L419.1,544.5 L420.2,546.1 L421.4,547.4 L422.5,548.9 L423.6,550.3 L424.7,551.5 L425.8,552.9 L426.9,554.4 L428.0,555.8 L429.1,557.2 L430.3,558.7 L431.4,560.2 L432.7,561.3 L433.9,562.7 L435.2,563.7 L436.3,565.2 L437.5,566.9 L438.6,567.9 L439.7,569.5 L440.8,570.8 L441.8,572.2 L442.9,574.0 L444.0,575.5 L445.0,576.8 L446.1,578.1 L447.1,579.6 L448.2,581.0 L449.3,582.6 L450.3,584.1 L451.4,585.4 L452.5,586.9 L453.6,588.2 L454.7,589.8 L455.8,591.3 L457.0,592.6 L458.1,593.8 L459.3,595.3 L460.5,596.7 L461.6,597.9 L462.8,599.6 L463.9,600.8 L465.1,602.3 L466.2,603.6 L467.4,605.2 L468.5,606.4 L469.7,607.7 L470.9,608.9 L472.1,610.3 L473.3,611.5 L474.6,613.0 L475.8,614.4 L477.1,615.4 L478.4,616.8 L479.7,618.0 L481.0,619.3 L482.3,620.6 L483.6,621.9 L485.0,623.0 L486.3,624.1 L487.7,625.4 L489.2,626.2 L490.7,627.4 L492.2,628.4 L493.7,629.4 L495.1,630.5 L496.6,631.3 L498.1,632.5 L499.6,633.4 L501.2,634.4 L502.8,635.3 L504.4,635.9 L506.0,636.5 L507.6,637.5 L509.2,638.4 L510.8,639.3 L512.4,640.0 L514.1,640.7 L515.9,640.9 L517.6,641.7 L519.4,642.0 L521.1,642.3 L522.9,642.8 L524.7,643.1 L526.4,643.1 L528.2,643.6 L530.0,643.7 L531.8,643.6 L533.6,643.9 L535.4,643.9 L537.2,643.8 L539.0,644.0 L540.8,643.7 L542.6,643.8 L544.4,643.6 L546.2,643.4 L548.0,643.3 L549.7,642.9 L551.5,642.4 L553.3,642.3 L555.0,641.6 L556.8,641.1 L558.5,640.9 L560.3,640.7 L562.0,640.3 L563.8,640.0 L565.6,639.5 L567.3,639.2 L569.1,638.8 L570.9,638.4 L572.6,638.1 L574.4,637.5 L576.1,637.1 L577.9,637.0 L579.7,636.3 L581.4,636.2 L583.1,635.7 L584.9,635.2 L586.6,634.8 L588.4,634.4 L590.1,634.0 L591.9,633.3 L593.6,632.9 L595.4,632.5 L597.1,632.1 L598.9,631.6 L600.6,631.0 L602.3,630.7 L604.0,630.3 L605.8,629.6 L607.5,629.1 L609.2,628.5 L610.9,628.0 L612.6,627.6 L614.4,626.9 L616.1,626.6 L617.8,626.1 L619.6,625.6 L621.3,625.3 L623.1,624.5 L624.8,624.4 L626.6,623.8 L628.3,623.5 L630.1,623.1 L631.8,622.6 L633.6,622.0 L635.3,621.8 L637.0,621.0 L638.8,620.8 L640.5,620.3 L642.3,619.9 L644.0,619.6 L645.8,619.1 L647.5,618.6 L649.3,618.0 L651.0,617.6 L652.7,617.2 L654.5,616.7 L656.2,616.2 L658.0,616.1 L659.7,615.3 L661.5,615.2 L663.2,614.6 L665.0,614.1 L666.7,613.7 L668.5,613.1 L670.2,612.8 L671.9,612.3 L673.7,611.9 L675.4,611.4 L677.2,611.1 L678.9,610.6 L680.6,609.9 L682.3,609.5 L684.0,609.0 L685.8,608.3 L687.5,607.6 L689.2,607.1 L690.9,606.6 L692.6,606.3 L694.4,605.6 L696.1,605.1 L697.8,604.8 L699.6,604.2 L701.3,604.0 L703.1,603.5 L704.8,602.9 L706.6,602.7 L708.3,602.1 L710.1,601.9 L711.8,601.6 L713.6,601.1 L715.4,600.8 L717.1,600.5 L718.9,600.1 L720.7,599.8 L722.4,599.5 L724.2,599.2 L726.0,598.9 L727.8,598.7 L729.6,598.1 L731.3,598.0 L733.1,597.7 L734.9,597.4 L736.7,597.1 L738.5,596.8 L740.2,596.8 L742.0,596.3 L743.8,596.1 L745.6,596.0 L747.4,595.4 L749.1,595.4 L750.9,594.8 L752.7,594.4 L754.4,594.2 L756.2,593.9 L758.0,593.8 L759.7,593.4 L761.5,593.0 L763.3,592.5 L765.0,592.1 L766.8,591.6 L768.5,591.5 L770.3,591.0 L772.1,590.6 L773.8,590.3 L775.6,589.8 L777.4,589.5 L779.1,589.4 L780.9,588.7 L782.7,588.4 L784.4,588.1 L786.2,587.8 L788.0,587.5 L789.7,587.1 L791.5,586.8 L793.3,586.4 L795.0,586.0 L796.8,585.8 L798.6,585.3 L800.3,585.0 L802.1,584.8 L803.9,584.2 L805.6,583.8 L807.4,583.8 L809.1,583.2 L810.9,583.0 L812.7,582.4 L814.4,582.2 L816.2,582.0 L818.0,581.4 L819.7,581.2 L821.5,580.8 L823.3,580.4 L825.0,580.3 L826.8,579.7 L828.6,579.4 L830.3,579.1 L832.1,578.6 L833.9,578.5 L835.6,578.0 L837.4,577.7 L839.2,577.3 L840.9,577.1 L842.7,576.8 L844.4,576.3 L846.2,575.8 L848.0,575.4 L849.7,575.1 L851.5,574.5 L853.3,574.2 L855.0,574.2 L856.8,573.4 L858.5,573.4 L860.3,572.9 L862.1,572.7 L863.8,572.0 L865.6,571.7 L867.4,571.6 L869.1,571.0 L870.9,570.7 L872.7,570.5 L874.5,570.2 L876.2,569.9 L878.0,569.9 L879.8,569.4 L881.6,569.5 L883.4,569.2 L885.2,568.8 L887.0,568.9 L888.8,568.4 L890.5,568.3 L892.3,568.2 L894.1,567.8 L895.9,567.7 L897.7,567.4 L899.5,567.2 L901.3,567.3 L903.1,567.1 L904.9,566.8 L906.7,566.7 L908.4,566.6 L910.2,566.1 L912.0,566.1 L913.8,565.8 L915.6,565.6 L917.4,565.5 L919.2,565.4 L921.0,565.3 L922.8,565.2 L924.6,565.2 L926.4,565.2 L928.2,565.2 L930.0,565.1 L931.8,565.0 L933.6,564.8 L935.4,564.9 L937.2,564.5 L939.0,564.4 L940.8,564.6 L942.6,564.4 L944.4,564.2 L946.2,564.1 L948.0,564.0 L949.8,564.0 L951.6,563.9 L953.4,563.8 L955.2,563.9 L957.0,563.8 L958.8,563.6 L960.6,563.5 L962.4,563.4 L964.2,563.5 L966.0,563.5 L967.8,563.1 L969.5,563.3 L971.3,563.2 L973.1,563.1 L974.9,562.8 L976.7,563.0 L978.5,562.8 L980.3,562.7 L982.1,562.8 L983.9,562.7 L985.7,562.7 L987.5,562.7 L989.3,562.6 L991.1,562.4 L992.5,562.2" stroke="#F56B6B" stroke-width="4.5"/>
<path d="M124.5,227.9 L125.6,229.4 L126.7,230.5 L127.8,230.2 L128.9,231.0 L130.0,232.9 L131.0,233.7 L131.7,235.2M139.7,241.0 L139.7,241.0M145.2,246.6 L145.5,247.5 L146.6,247.8 L147.6,249.0 L148.7,251.1 L149.8,250.3 L150.8,251.5 L151.6,253.5M158.0,259.4 L158.0,259.4M164.2,266.9 L164.6,267.5 L165.5,270.1 L166.4,270.4 L167.3,271.6 L168.2,273.2 L169.2,274.1 L170.1,275.1 L170.7,275.3M177.3,283.1 L177.3,283.1M183.9,290.9 L184.2,291.4 L185.3,291.9 L186.4,292.1 L187.4,294.7 L188.4,295.0 L189.4,296.3 L190.4,296.9 L191.2,298.2M197.4,305.7 L197.5,305.7M204.9,312.0 L205.8,313.2 L206.8,314.7 L207.8,316.6 L208.8,316.9 L209.3,317.9M214.1,322.0 L214.1,322.0M219.0,326.1 L219.8,327.6 L220.9,327.9 L221.9,328.8 L222.9,329.5 L224.0,330.7 L224.3,331.3M229.1,336.1 L229.1,336.1M234.5,340.7 L235.2,340.8 L236.4,342.2 L237.5,343.1 L238.6,344.4 L239.6,344.9 L240.0,345.6M244.4,350.9 L244.4,350.9M249.0,356.1 L249.7,356.7 L250.8,357.0 L252.0,358.0 L253.2,358.9 L254.4,360.4 L254.8,360.8M260.0,365.4 L260.0,365.4M264.6,371.0 L264.8,371.4 L266.0,372.4 L267.1,373.2 L268.2,373.7 L269.3,374.9 L270.2,375.9M275.6,380.7 L275.6,380.7M279.8,386.5 L280.4,387.3 L281.3,388.6 L282.2,389.8 L283.1,390.6 L284.0,392.1 L284.5,392.4M288.7,398.3 L288.7,398.3M293.5,403.7 L294.3,404.9 L295.3,405.7 L296.3,406.6 L297.3,407.9 L298.3,408.9 L298.6,409.3M303.2,414.8 L303.2,414.8M307.9,420.3 L308.8,421.8 L309.7,422.9 L310.7,423.8 L311.7,425.4 L312.7,426.1M317.4,431.5 L317.4,431.5M321.5,437.5 L321.9,438.5 L322.8,439.4 L323.7,440.8 L324.5,441.6 L325.4,443.0 L325.9,443.7M330.4,449.3 L330.4,449.3M335.0,454.9 L335.7,456.0 L336.6,457.2 L337.5,458.6 L338.4,459.6 L339.3,460.8 L339.5,461.1M343.9,466.9 L343.9,466.9M349.4,473.9 L350.2,475.2 L351.1,476.1 L352.1,477.6 L353.0,478.6 L354.0,479.7 L354.9,481.1 L355.2,481.4M360.8,488.7 L360.8,488.7M366.7,495.8 L367.0,496.2 L368.0,497.3 L368.9,498.6 L369.9,499.5 L370.9,500.7 L371.9,501.8 L372.8,503.1M378.1,510.6 L378.1,510.6M383.7,518.0 L384.4,518.8 L385.3,519.8 L386.3,521.0 L387.3,522.1 L388.3,523.3 L389.3,524.4 L390.0,525.2M396.4,531.8 L396.4,531.8M403.2,538.0 L403.2,538.0 L404.4,539.0 L405.5,540.0 L406.7,540.9 L407.9,541.8 L409.1,542.7 L410.3,543.6 L410.7,543.9M418.7,548.5 L418.7,548.5M428.5,552.3 L429.2,552.5 L430.7,552.9 L432.1,553.3 L433.5,553.7 L435.0,554.1 L436.5,554.4 L437.9,554.8 L439.1,555.1M449.6,556.9 L449.6,556.9M460.1,557.6 L460.2,557.6 L461.7,557.6 L463.2,557.5 L464.7,557.4 L466.2,557.3 L467.7,557.1 L469.2,556.9 L470.6,556.7 L471.1,556.7M481.5,554.8 L481.5,554.8M492.0,552.9 L492.8,552.8 L494.3,552.6 L495.8,552.4 L497.3,552.3 L498.8,552.2 L500.2,552.0 L501.7,551.9 L502.9,551.8M513.5,551.2 L513.5,551.2M524.1,550.7 L524.2,550.7 L525.7,550.6 L527.2,550.5 L528.7,550.5 L530.2,550.4 L531.7,550.4 L533.2,550.3 L534.7,550.3 L535.1,550.3M545.7,550.0 L545.7,550.0M556.3,549.8 L557.2,549.8 L558.7,549.8 L560.2,549.8 L561.7,549.8 L563.2,549.8 L564.7,549.8 L566.2,549.8 L567.3,549.8M577.9,549.9 L577.9,549.9M588.5,549.9 L588.7,549.9 L590.2,549.9 L591.7,550.0 L593.2,550.0 L594.7,550.0 L596.2,550.0 L597.7,550.0 L599.2,550.0 L599.5,550.0M610.1,550.1 L610.1,550.1M620.7,550.2 L621.7,550.2 L623.2,550.2 L624.7,550.2 L626.2,550.3 L627.7,550.3 L629.2,550.3 L630.7,550.3 L631.7,550.3M642.3,550.4 L642.3,550.4M652.9,550.5 L653.2,550.5 L654.7,550.5 L656.2,550.5 L657.7,550.6 L659.2,550.6 L660.7,550.6 L662.2,550.6 L663.7,550.6 L663.9,550.6M674.5,550.7 L674.5,550.7M685.1,550.8 L686.2,550.8 L687.7,550.9 L689.2,550.9 L690.7,550.9 L692.2,550.9 L693.7,550.9 L695.2,550.9 L696.1,550.9M706.7,551.0 L706.7,551.0M717.3,551.1 L717.7,551.1 L719.2,551.1 L720.7,551.2 L722.2,551.2 L723.7,551.2 L725.2,551.2 L726.7,551.2 L728.2,551.2 L728.3,551.2M738.9,551.3 L738.9,551.3M749.5,551.4 L750.7,551.4 L752.2,551.4 L753.7,551.4 L755.2,551.4 L756.7,551.4 L758.2,551.5 L759.7,551.5 L760.5,551.5M771.1,551.6 L771.1,551.6M781.7,551.7 L782.2,551.7 L783.7,551.7 L785.2,551.7 L786.7,551.7 L788.2,551.7 L789.7,551.7 L791.2,551.8 L792.7,551.8 L792.7,551.8M803.3,551.9 L803.3,551.9M813.9,552.0 L815.2,552.0 L816.7,552.0 L818.2,552.0 L819.7,552.0 L821.2,552.0 L822.7,552.1 L824.2,552.1 L824.9,552.1M835.5,552.2 L835.6,552.2M846.2,552.3 L846.7,552.3 L848.2,552.3 L849.7,552.3 L851.2,552.3 L852.7,552.3 L854.2,552.3 L855.7,552.3 L857.2,552.4M867.8,552.4 L867.8,552.4M878.4,552.4 L879.7,552.4 L881.2,552.4 L882.7,552.4 L884.2,552.4 L885.7,552.4 L887.2,552.4 L888.7,552.4 L889.4,552.4M900.0,552.3 L900.0,552.3M910.6,552.3 L911.2,552.3 L912.7,552.2 L914.2,552.2 L915.7,552.2 L917.2,552.2 L918.7,552.2 L920.2,552.2 L921.6,552.2M932.2,552.1 L932.2,552.1 L932.2,552.1M942.8,552.0 L944.2,552.0 L945.7,552.0 L947.2,552.0 L948.7,552.0 L950.2,552.0 L951.7,551.9 L953.2,551.9 L953.8,551.9M964.4,551.8 L964.4,551.8M975.0,551.7 L975.7,551.7 L977.2,551.7 L978.7,551.7 L980.2,551.7 L981.7,551.7 L983.2,551.7 L984.7,551.7 L986.0,551.7" stroke="#F0A07E" stroke-width="4.2"/>
</g>
<g><path d="M296.3,166.6 L364.5,243.6" stroke="#E9744C" stroke-width="2.9" fill="none" stroke-dasharray="13.6 6 3.4 6"/><path d="M379,261.2 L358.2,248.9 L367.6,247.6 L369.4,238.2 Z" fill="#E9744C"/></g>
<g stroke="#000" fill="none">
<rect x="119.6" y="0.9" width="874.2" height="679.3" stroke-width="2.7"/>
<path d="M146.5,680.2V669.2M146.5,0.9V11.9M280.4,680.2V669.2M280.4,0.9V11.9M414.3,680.2V669.2M414.3,0.9V11.9M548.2,680.2V669.2M548.2,0.9V11.9M682.1,680.2V669.2M682.1,0.9V11.9M816.0,680.2V669.2M816.0,0.9V11.9M949.9,680.2V669.2M949.9,0.9V11.9M172.3,680.2V674.2M172.3,0.9V6.9M202.1,680.2V674.2M202.1,0.9V6.9M237.3,680.2V674.2M237.3,0.9V6.9M306.2,680.2V674.2M306.2,0.9V6.9M336.0,680.2V674.2M336.0,0.9V6.9M371.2,680.2V674.2M371.2,0.9V6.9M440.1,680.2V674.2M440.1,0.9V6.9M469.9,680.2V674.2M469.9,0.9V6.9M505.1,680.2V674.2M505.1,0.9V6.9M574.0,680.2V674.2M574.0,0.9V6.9M603.8,680.2V674.2M603.8,0.9V6.9M639.0,680.2V674.2M639.0,0.9V6.9M707.9,680.2V674.2M707.9,0.9V6.9M737.7,680.2V674.2M737.7,0.9V6.9M772.9,680.2V674.2M772.9,0.9V6.9M841.8,680.2V674.2M841.8,0.9V6.9M871.6,680.2V674.2M871.6,0.9V6.9M906.8,680.2V674.2M906.8,0.9V6.9M119.6,71.9H130.6M993.8,71.9H982.8M119.6,222.9H130.6M993.8,222.9H982.8M119.6,337.1H130.6M993.8,337.1H982.8M119.6,451.3H130.6M993.8,451.3H982.8M119.6,565.5H130.6M993.8,565.5H982.8M119.6,679.7H130.6M993.8,679.7H982.8M119.6,98.7H125.6M993.8,98.7H987.8M119.6,130.7H125.6M993.8,130.7H987.8M119.6,170.4H125.6M993.8,170.4H987.8M119.6,244.9H125.6M993.8,244.9H987.8M119.6,270.3H125.6M993.8,270.3H987.8M119.6,300.3H125.6M993.8,300.3H987.8M119.6,359.1H125.6M993.8,359.1H987.8M119.6,384.5H125.6M993.8,384.5H987.8M119.6,414.5H125.6M993.8,414.5H987.8M119.6,473.3H125.6M993.8,473.3H987.8M119.6,498.7H125.6M993.8,498.7H987.8M119.6,528.7H125.6M993.8,528.7H987.8M119.6,587.5H125.6M993.8,587.5H987.8M119.6,612.9H125.6M993.8,612.9H987.8M119.6,642.9H125.6M993.8,642.9H987.8" stroke-width="2.5"/>
</g>
<text x="146.5" y="720.5" font-size="36" text-anchor="middle">8</text>
<text x="280.4" y="720.5" font-size="36" text-anchor="middle">4</text>
<text x="414.3" y="720.5" font-size="36" text-anchor="middle">2</text>
<text x="548.2" y="720.5" font-size="36" text-anchor="middle">1</text>
<text x="682.1" y="720.5" font-size="36" text-anchor="middle">0.5</text>
<text x="816.0" y="720.5" font-size="36" text-anchor="middle">0.25</text>
<text x="949.9" y="720.5" font-size="36" text-anchor="middle">0.125</text>
<text x="105.6" y="84.5" font-size="37" text-anchor="end">5</text>
<text x="105.6" y="235.5" font-size="37" text-anchor="end">2</text>
<text x="105.6" y="349.7" font-size="37" text-anchor="end">1</text>
<text x="105.6" y="463.9" font-size="37" text-anchor="end">0.5</text>
<text x="105.6" y="578.1" font-size="37" text-anchor="end">0.25</text>
<text x="105.6" y="692.3" font-size="37" text-anchor="end">0.125</text>
<text x="485.5" y="776.6" font-size="45"><tspan font-size="47">μ</tspan><tspan font-size="30.5" dy="13.5">0</tspan><tspan font-style="italic" font-size="46" dy="-13.5">H</tspan><tspan> (T)</tspan></text><text transform="translate(32.3,387.5) rotate(-90)" font-size="45"><tspan font-style="italic" font-size="46.5" x="-1.8">T</tspan><tspan x="33.2">(K)</tspan></text>
<path d="M154.7,471.0H215.5" stroke="#A970DF" stroke-width="4" stroke-linecap="round"/><text x="222.6" y="480.5" font-size="27.6">9T6K</text><path d="M154.7,504.9H215.5" stroke="#0A9EFB" stroke-width="4" stroke-linecap="round"/><text x="222.6" y="514.4" font-size="27.6">9T4K</text><path d="M154.7,538.8H215.5" stroke="#38A66A" stroke-width="4" stroke-linecap="round"/><text x="222.6" y="548.3" font-size="27.6">9T3K</text><path d="M154.7,572.7H215.5" stroke="#F56B6B" stroke-width="4" stroke-linecap="round"/><text x="222.6" y="582.2" font-size="27.6">9T2K</text><path d="M154.7,606.6H215.5" stroke="#F0A07E" stroke-width="4" stroke-linecap="round" stroke-dasharray="11 10.6 0.1 10.6"/><text x="222.6" y="616.1" font-size="27.6">9T</text><text x="266.2" y="616.1" font-size="27.6">2K</text><path d="M154.7,640.5H215.5" stroke="#C49CF3" stroke-width="4" stroke-linecap="round" stroke-dasharray="11 10.6 0.1 10.6"/><text x="222.6" y="650.0" font-size="27.6">9T</text><text x="266.2" y="650.0" font-size="27.6">6K</text>
<g stroke="#000" fill="none" stroke-width="2.2"><rect x="540.2" y="41.3" width="412.6" height="259"/><path d="M543.2,300.3V291.3M543.2,41.3V50.3M620.3,300.3V291.3M620.3,41.3V50.3M697.3,300.3V291.3M697.3,41.3V50.3M774.3,300.3V291.3M774.3,41.3V50.3M851.4,300.3V291.3M851.4,41.3V50.3M928.4,300.3V291.3M928.4,41.3V50.3M575.2,300.3V295.6M575.2,41.3V46M652.2,300.3V295.6M652.2,41.3V46M729.3,300.3V295.6M729.3,41.3V46M806.3,300.3V295.6M806.3,41.3V46M883.4,300.3V295.6M883.4,41.3V46M540.2,267.4H549.2M952.8,267.4H943.8M540.2,202.8H549.2M952.8,202.8H943.8M540.2,138.3H549.2M952.8,138.3H943.8M540.2,73.8H549.2M952.8,73.8H943.8M540.2,235.1H544.8M952.8,235.1H948.2M540.2,170.6H544.8M952.8,170.6H948.2M540.2,106.0H544.8M952.8,106.0H948.2"/></g><path d="M541.3,266.2H951.7" stroke="#FF0000" stroke-width="2.6"/><path d="M544.8,213.4 L545.7,213.8 L546.6,214.2 L547.5,214.6 L548.4,215.1 L549.4,215.5 L550.3,215.9 L551.2,216.3 L552.1,216.7 L553.0,217.1 L553.9,217.5 L554.8,217.9 L555.7,218.4 L556.6,218.8 L557.5,219.2 L558.5,219.6 L559.4,220.0 L560.3,220.5 L561.2,220.9 L562.1,221.3 L563.0,221.7 L563.9,222.2 L564.8,222.6 L565.7,223.0 L566.6,223.5 L567.5,223.9 L568.4,224.4 L569.3,224.8 L570.2,225.2 L571.1,225.7 L572.0,226.1 L572.9,226.6 L573.8,227.0 L574.6,227.5 L575.5,227.9 L576.4,228.4 L577.3,228.8 L578.2,229.2 L579.1,229.7 L580.0,230.1 L580.9,230.5 L581.8,231.0 L582.7,231.4 L583.6,231.9 L584.5,232.3 L585.4,232.8 L586.3,233.2 L587.2,233.6 L588.1,234.1 L589.0,234.5 L589.9,234.9 L590.8,235.4 L591.7,235.8 L592.6,236.2 L593.6,236.6 L594.5,237.0 L595.4,237.4 L596.3,237.8 L597.2,238.1 L598.2,238.5 L599.1,238.9 L600.1,239.2 L601.0,239.6 L601.9,239.9 L602.9,240.2 L603.8,240.6 L604.8,240.9 L605.7,241.2 L606.6,241.6 L607.6,241.9 L608.5,242.2 L609.5,242.5 L610.4,242.9 L611.4,243.2 L612.3,243.5 L613.3,243.9 L614.2,244.2 L615.1,244.5 L616.1,244.8 L617.0,245.2 L618.0,245.5 L618.9,245.8 L619.9,246.2 L620.8,246.5 L621.8,246.8 L622.7,247.1 L623.7,247.4 L624.6,247.7 L625.6,248.0 L626.5,248.3 L627.5,248.6 L628.4,248.9 L629.4,249.2 L630.4,249.5 L631.3,249.7 L632.3,250.0 L633.3,250.2 L634.2,250.5 L635.2,250.7 L636.2,251.0 L637.1,251.2 L638.1,251.4 L639.1,251.7 L640.1,251.9 L641.0,252.1 L642.0,252.4 L643.0,252.6 L644.0,252.8 L644.9,253.0 L645.9,253.3 L646.9,253.5 L647.8,253.7 L648.8,254.0 L649.8,254.2 L650.8,254.4 L651.7,254.7 L652.7,254.9 L653.7,255.1 L654.6,255.4 L655.6,255.6 L656.6,255.8 L657.6,256.0 L658.5,256.3 L659.5,256.5 L660.5,256.7 L661.5,256.9 L662.5,257.1 L663.4,257.3 L664.4,257.5 L665.4,257.6 L666.4,257.8 L667.4,258.0 L668.4,258.1 L669.4,258.3 L670.3,258.4 L671.3,258.6 L672.3,258.7 L673.3,258.9 L674.3,259.0 L675.3,259.2 L676.3,259.3 L677.3,259.5 L678.3,259.6 L679.3,259.7 L680.2,259.9 L681.2,260.0 L682.2,260.2 L683.2,260.3 L684.2,260.5 L685.2,260.6 L686.2,260.7 L687.2,260.9 L688.2,261.0 L689.2,261.1 L690.1,261.3 L691.1,261.4 L692.1,261.6 L693.1,261.7 L694.1,261.8 L695.1,262.0 L696.1,262.1 L697.1,262.2 L698.1,262.4 L699.1,262.5 L700.1,262.6 L701.0,262.8 L702.0,262.9 L703.0,263.1 L704.0,263.2 L705.0,263.4 L706.0,263.5 L707.0,263.6 L708.0,263.8 L709.0,263.9 L709.9,264.1 L710.9,264.2 L711.9,264.3 L712.9,264.5 L713.9,264.6 L714.9,264.7 L715.9,264.8 L716.9,264.9 L717.9,265.0 L718.9,265.1 L719.9,265.2 L720.9,265.3 L721.9,265.4 L722.9,265.5 L723.9,265.6 L724.9,265.6 L725.9,265.7 L726.9,265.8 L727.9,265.9 L728.9,265.9 L729.8,266.0 L730.8,266.1 L731.8,266.2 L732.8,266.3 L733.8,266.3 L734.8,266.4 L735.8,266.5 L736.8,266.6 L737.8,266.7 L738.8,266.8 L739.8,266.9 L740.8,266.9 L741.8,267.0 L742.8,267.1 L743.8,267.2 L744.8,267.3 L745.8,267.4 L746.8,267.5 L747.8,267.6 L748.8,267.7 L749.8,267.8 L750.8,267.9 L751.8,268.0 L752.8,268.1 L753.7,268.2 L754.7,268.3 L755.7,268.4 L756.7,268.5 L757.7,268.6 L758.7,268.7 L759.7,268.8 L760.7,269.0 L761.7,269.1 L762.7,269.2 L763.7,269.3 L764.7,269.4 L765.7,269.5 L766.7,269.6 L767.7,269.7 L768.7,269.9 L769.7,270.0 L770.6,270.1 L771.6,270.2 L772.6,270.3 L773.6,270.4 L774.6,270.5 L775.6,270.7 L776.6,270.8 L777.6,270.9 L778.6,271.0 L779.6,271.1 L780.6,271.2 L781.6,271.3 L782.6,271.4 L783.6,271.5 L784.6,271.6 L785.6,271.6 L786.6,271.7 L787.6,271.8 L788.6,271.8 L789.6,271.9 L790.6,271.9 L791.6,271.9 L792.6,272.0 L793.6,272.0 L794.5,272.1 L795.5,272.1 L796.5,272.1 L797.5,272.1 L798.5,272.2 L799.5,272.2 L800.5,272.2 L801.5,272.2 L802.5,272.3 L803.5,272.3 L804.5,272.3 L805.5,272.3 L806.5,272.3 L807.5,272.3 L808.5,272.4 L809.5,272.4 L810.5,272.4 L811.5,272.4 L812.5,272.4 L813.5,272.4 L814.5,272.4 L815.5,272.4 L816.5,272.5 L817.5,272.5 L818.5,272.5 L819.5,272.5 L820.5,272.5 L821.5,272.5 L822.5,272.5 L823.5,272.5 L824.5,272.5 L825.5,272.5 L826.5,272.6 L827.5,272.6 L828.5,272.6 L829.5,272.6 L830.5,272.6 L831.5,272.6 L832.5,272.6 L833.5,272.6 L834.5,272.6 L835.5,272.6 L836.5,272.6 L837.5,272.6 L838.5,272.6 L839.5,272.6 L840.5,272.6 L841.5,272.6 L842.5,272.6 L843.5,272.6 L844.5,272.6 L845.5,272.6 L846.5,272.6 L847.5,272.6 L848.5,272.6 L849.5,272.6 L850.5,272.6 L851.5,272.6 L852.5,272.6 L853.5,272.6 L854.5,272.6 L855.5,272.6 L856.5,272.6 L857.5,272.6 L858.5,272.6 L859.5,272.6 L860.5,272.6 L861.5,272.6 L862.5,272.6 L863.5,272.6 L864.5,272.6 L865.5,272.6 L866.5,272.6 L867.5,272.6 L868.5,272.6 L869.5,272.6 L870.5,272.6 L871.5,272.5 L872.5,272.5 L873.5,272.5 L874.5,272.5 L875.5,272.5 L876.5,272.5 L877.5,272.5 L878.5,272.5 L879.5,272.5 L880.5,272.5 L881.5,272.4 L882.5,272.4 L883.5,272.4 L884.5,272.4 L885.5,272.4 L886.5,272.4 L887.5,272.4 L888.5,272.4 L889.5,272.3 L890.5,272.3 L891.5,272.3 L892.5,272.3 L893.5,272.3 L894.5,272.3 L895.5,272.3 L896.5,272.2 L897.5,272.2 L898.5,272.2 L899.5,272.2 L900.5,272.2 L901.5,272.2 L902.5,272.2 L903.5,272.1 L904.5,272.1 L905.5,272.1 L906.5,272.1 L907.5,272.1 L908.5,272.1 L909.5,272.1 L910.5,272.0 L911.5,272.0 L912.5,272.0 L913.5,272.0 L914.5,272.0 L915.5,272.0 L916.5,271.9 L917.5,271.9 L918.5,271.9 L919.5,271.9 L920.5,271.9 L921.5,271.9 L922.5,271.9 L923.5,271.8 L924.5,271.8 L925.5,271.8 L926.5,271.8 L927.5,271.8 L928.5,271.8 L929.5,271.7 L930.5,271.7 L931.5,271.7 L932.5,271.7 L933.5,271.7 L934.5,271.7 L935.5,271.7 L936.5,271.6 L937.5,271.6 L938.5,271.6 L939.5,271.6 L940.5,271.6 L941.5,271.6 L942.5,271.5 L943.5,271.5 L944.5,271.5 L945.5,271.5 L946.5,271.5 L947.5,271.5 L948.5,271.4 L949.5,271.4 L950.5,271.4 L951.5,271.4" fill="none" stroke="#858585" stroke-width="4" stroke-linecap="round" stroke-dasharray="6.3 11.7"/><path d="M549.1,153.7 L549.8,154.4 L550.5,155.1 L551.2,155.8 L552.0,156.5 L552.7,157.2 L553.4,157.9 L554.1,158.6 L554.8,159.3 L555.5,160.0 L556.2,160.7 L556.9,161.4 L557.6,162.1 L558.4,162.8 L559.1,163.5 L559.8,164.3 L560.5,165.0 L561.2,165.7 L561.8,166.4 L562.5,167.1 L563.2,167.9 L563.9,168.6 L564.6,169.4 L565.2,170.1 L565.9,170.9 L566.5,171.6 L567.2,172.4 L567.8,173.2 L568.4,173.9 L569.1,174.7 L569.7,175.5 L570.4,176.2 L571.0,177.0 L571.7,177.7 L572.3,178.5 L573.0,179.2 L573.7,180.0 L574.4,180.7 L575.1,181.4 L575.8,182.1 L576.5,182.8 L577.3,183.5 L578.0,184.1 L578.7,184.8 L579.5,185.5 L580.2,186.1 L581.0,186.8 L581.8,187.4 L582.5,188.1 L583.3,188.7 L584.1,189.4 L584.8,190.0 L585.6,190.6 L586.4,191.3 L587.1,191.9 L587.9,192.6 L588.7,193.2 L589.4,193.8 L590.2,194.5 L591.0,195.1 L591.7,195.8 L592.5,196.4 L593.2,197.1 L594.0,197.7 L594.8,198.3 L595.6,199.0 L596.3,199.6 L597.1,200.2 L597.9,200.9 L598.7,201.5 L599.5,202.1 L600.3,202.7 L601.1,203.3 L601.9,203.9 L602.7,204.5 L603.5,205.1 L604.3,205.6 L605.1,206.2 L606.0,206.8 L606.8,207.3 L607.6,207.8 L608.5,208.4 L609.3,208.9 L610.2,209.5 L611.0,210.0 L611.9,210.5 L612.7,211.0 L613.6,211.6 L614.4,212.1 L615.3,212.6 L616.1,213.2 L617.0,213.7 L617.8,214.2 L618.7,214.8 L619.5,215.3 L620.3,215.8 L621.2,216.4 L622.0,216.9 L622.9,217.4 L623.7,218.0 L624.6,218.5 L625.4,219.0 L626.3,219.5 L627.1,220.1 L628.0,220.6 L628.9,221.1 L629.7,221.6 L630.6,222.1 L631.5,222.6 L632.3,223.0 L633.2,223.5 L634.1,224.0 L635.0,224.4 L635.9,224.9 L636.8,225.3 L637.7,225.8 L638.6,226.2 L639.5,226.6 L640.4,227.1 L641.3,227.5 L642.2,227.9 L643.1,228.3 L644.0,228.7 L644.9,229.1 L645.9,229.5 L646.8,230.0 L647.7,230.4 L648.6,230.8 L649.5,231.2 L650.4,231.6 L651.3,232.0 L652.2,232.4 L653.1,232.8 L654.1,233.2 L655.0,233.6 L655.9,234.0 L656.8,234.4 L657.7,234.8 L658.7,235.2 L659.6,235.6 L660.5,236.0 L661.4,236.4 L662.4,236.7 L663.3,237.1 L664.2,237.5 L665.2,237.8 L666.1,238.2 L667.0,238.5 L668.0,238.8 L668.9,239.1 L669.9,239.5 L670.8,239.8 L671.8,240.1 L672.7,240.4 L673.7,240.7 L674.6,241.0 L675.6,241.3 L676.5,241.6 L677.5,241.9 L678.5,242.2 L679.4,242.5 L680.4,242.8 L681.3,243.1 L682.3,243.4 L683.2,243.7 L684.2,244.1 L685.1,244.4 L686.0,244.7 L687.0,245.0 L687.9,245.4 L688.9,245.7 L689.8,246.0 L690.8,246.3 L691.7,246.7 L692.7,247.0 L693.6,247.3 L694.6,247.6 L695.5,247.9 L696.5,248.2 L697.4,248.5 L698.4,248.8 L699.3,249.1 L700.3,249.4 L701.3,249.7 L702.2,249.9 L703.2,250.2 L704.1,250.5 L705.1,250.7 L706.1,251.0 L707.0,251.3 L708.0,251.5 L709.0,251.8 L709.9,252.0 L710.9,252.3 L711.9,252.5 L712.8,252.8 L713.8,253.1 L714.8,253.3 L715.7,253.6 L716.7,253.8 L717.7,254.1 L718.6,254.3 L719.6,254.6 L720.6,254.8 L721.5,255.1 L722.5,255.3 L723.5,255.6 L724.5,255.8 L725.4,256.0 L726.4,256.3 L727.4,256.5 L728.3,256.8 L729.3,257.0 L730.3,257.2 L731.3,257.5 L732.2,257.7 L733.2,257.9 L734.2,258.2 L735.1,258.4 L736.1,258.6 L737.1,258.9 L738.1,259.1 L739.0,259.3 L740.0,259.6 L741.0,259.8 L742.0,260.0 L742.9,260.2 L743.9,260.5 L744.9,260.7 L745.9,260.9 L746.8,261.1 L747.8,261.3 L748.8,261.6 L749.8,261.8 L750.7,262.0 L751.7,262.2 L752.7,262.4 L753.7,262.6 L754.6,262.8 L755.6,263.0 L756.6,263.2 L757.6,263.4 L758.6,263.6 L759.5,263.9 L760.5,264.1 L761.5,264.3 L762.5,264.5 L763.5,264.7 L764.4,264.9 L765.4,265.1 L766.4,265.3 L767.4,265.5 L768.3,265.7 L769.3,265.9 L770.3,266.2 L771.3,266.4 L772.2,266.6 L773.2,266.8 L774.2,267.0 L775.2,267.3 L776.2,267.5 L777.1,267.7 L778.1,267.9 L779.1,268.1 L780.1,268.3 L781.1,268.5 L782.0,268.6 L783.0,268.8 L784.0,269.0 L785.0,269.2 L786.0,269.3 L787.0,269.5 L788.0,269.6 L788.9,269.8 L789.9,270.0 L790.9,270.1 L791.9,270.3 L792.9,270.4 L793.9,270.6 L794.9,270.7 L795.9,270.9 L796.8,271.0 L797.8,271.2 L798.8,271.3 L799.8,271.5 L800.0,271.5" fill="none" stroke="#E9A116" stroke-width="4" stroke-linecap="round" stroke-dasharray="6.3 11.7"/><path d="M543.5,89.5 L544.0,90.4 L544.5,91.2 L545.0,92.1 L545.6,92.9 L546.1,93.8 L546.6,94.6 L547.1,95.5 L547.6,96.4 L548.1,97.2 L548.6,98.1 L549.2,98.9 L549.7,99.8 L550.2,100.6 L550.7,101.5 L551.2,102.4 L551.8,103.2 L552.3,104.1 L552.8,104.9 L553.3,105.7 L553.9,106.6 L554.4,107.4 L555.0,108.3 L555.5,109.1 L556.1,109.9 L556.7,110.7 L557.2,111.6 L557.8,112.4 L558.4,113.2 L559.0,114.0 L559.7,114.8 L560.3,115.5 L560.9,116.3 L561.5,117.1 L562.2,117.9 L562.8,118.6 L563.4,119.4 L564.1,120.2 L564.7,121.0 L565.3,121.8 L565.9,122.5 L566.5,123.3 L567.2,124.1 L567.8,124.9 L568.4,125.7 L569.0,126.5 L569.6,127.3 L570.2,128.1 L570.8,128.9 L571.4,129.7 L572.0,130.5 L572.6,131.3 L573.2,132.1 L573.8,132.9 L574.4,133.7 L575.0,134.5 L575.6,135.3 L576.2,136.1 L576.8,136.9 L577.4,137.7 L578.0,138.5 L578.6,139.3 L579.2,140.1 L579.8,140.9 L580.4,141.7 L581.0,142.5 L581.6,143.3 L582.2,144.1 L582.8,144.9 L583.5,145.6 L584.1,146.4 L584.7,147.2 L585.3,148.0 L585.9,148.8 L586.6,149.6 L587.2,150.3 L587.8,151.1 L588.5,151.9 L589.1,152.7 L589.8,153.4 L590.4,154.2 L591.1,154.9 L591.7,155.7 L592.4,156.4 L593.1,157.2 L593.7,157.9 L594.4,158.6 L595.1,159.4 L595.8,160.1 L596.5,160.8 L597.2,161.5 L597.8,162.3 L598.5,163.0 L599.2,163.7 L599.9,164.4 L600.6,165.1 L601.3,165.8 L602.1,166.5 L602.8,167.3 L603.5,168.0 L604.2,168.7 L604.9,169.3 L605.6,170.0 L606.4,170.7 L607.1,171.4 L607.8,172.1 L608.5,172.8 L609.3,173.5 L610.0,174.1 L610.8,174.8 L611.5,175.5 L612.2,176.1 L613.0,176.8 L613.7,177.5 L614.5,178.1 L615.2,178.8 L616.0,179.4 L616.8,180.1 L617.5,180.7 L618.3,181.4 L619.1,182.0 L619.8,182.7 L620.6,183.3 L621.4,183.9 L622.2,184.5 L622.9,185.2 L623.7,185.8 L624.5,186.4 L625.3,187.0 L626.1,187.7 L626.9,188.3 L627.6,188.9 L628.4,189.5 L629.2,190.1 L630.0,190.8 L630.8,191.4 L631.6,192.0 L632.4,192.6 L633.2,193.2 L634.0,193.8 L634.7,194.4 L635.5,195.0 L636.3,195.6 L637.1,196.2 L637.9,196.8 L638.7,197.4 L639.5,198.0 L640.3,198.6 L641.1,199.2 L641.9,199.8 L642.7,200.4 L643.5,201.0 L644.3,201.6 L645.1,202.3 L645.9,202.9 L646.7,203.5 L647.5,204.1 L648.3,204.7 L649.1,205.3 L649.9,205.9 L650.7,206.5 L651.5,207.1 L652.3,207.7 L653.1,208.2 L653.9,208.8 L654.8,209.4 L655.6,210.0 L656.4,210.6 L657.2,211.1 L658.1,211.7 L658.9,212.2 L659.7,212.8 L660.6,213.3 L661.4,213.8 L662.3,214.3 L663.2,214.8 L664.0,215.3 L664.9,215.8 L665.7,216.3 L666.6,216.8 L667.5,217.3 L668.4,217.8 L669.2,218.3 L670.1,218.8 L671.0,219.3 L671.8,219.8 L672.7,220.3 L673.6,220.8 L674.5,221.3 L675.3,221.7 L676.2,222.2 L677.1,222.7 L677.9,223.2 L678.8,223.7 L679.7,224.2 L680.6,224.7 L681.4,225.1 L682.3,225.6 L683.2,226.1 L684.1,226.6 L685.0,227.1 L685.8,227.5 L686.7,228.0 L687.6,228.5 L688.5,228.9 L689.4,229.4 L690.3,229.9 L691.1,230.3 L692.0,230.8 L692.9,231.3 L693.8,231.8 L694.7,232.2 L695.6,232.7 L696.4,233.2 L697.3,233.6 L698.2,234.1 L699.1,234.5 L700.0,235.0 L700.9,235.4 L701.8,235.9 L702.7,236.3 L703.6,236.7 L704.5,237.1 L705.4,237.5 L706.4,237.9 L707.3,238.3 L708.2,238.7 L709.1,239.0 L710.1,239.4 L711.0,239.8 L711.9,240.1 L712.9,240.5 L713.8,240.8 L714.7,241.2 L715.7,241.5 L716.6,241.8 L717.6,242.2 L718.5,242.5 L719.5,242.8 L720.4,243.1 L721.4,243.5 L722.3,243.8 L723.3,244.1 L724.2,244.4 L725.2,244.7 L726.1,245.0 L727.1,245.3 L728.0,245.6 L729.0,245.9 L730.0,246.1 L730.9,246.4 L731.9,246.7 L732.8,247.0 L733.8,247.2 L734.8,247.5 L735.7,247.7 L736.7,248.0 L737.7,248.2 L738.6,248.5 L739.6,248.7 L740.6,248.9 L741.6,249.1 L742.5,249.4 L743.5,249.6 L744.5,249.8 L745.5,250.0 L746.5,250.2 L747.4,250.4 L748.4,250.6 L749.4,250.8 L750.4,251.0 L751.4,251.2 L752.3,251.4 L753.3,251.6 L754.3,251.8 L755.3,252.0 L756.3,252.2 L757.2,252.4 L758.2,252.6 L759.2,252.8 L760.2,253.0 L761.1,253.2 L762.1,253.4 L763.1,253.6 L764.1,253.8 L765.1,254.0 L766.0,254.3 L767.0,254.5 L768.0,254.7 L769.0,254.9 L770.0,255.1 L770.9,255.3 L771.9,255.5 L772.9,255.7 L773.9,255.9 L774.8,256.1 L775.8,256.3 L776.8,256.5 L777.8,256.7 L778.8,256.9 L779.8,257.1 L780.7,257.3 L781.7,257.4 L782.7,257.6 L783.7,257.8 L784.7,258.0 L785.7,258.1 L786.6,258.3 L787.6,258.5 L788.6,258.6 L789.6,258.7 L790.6,258.9 L791.6,259.0 L792.6,259.1 L793.6,259.2 L794.6,259.4 L795.6,259.5 L796.6,259.6 L797.6,259.7 L798.6,259.7 L799.5,259.8 L800.5,259.9 L801.5,260.0 L802.5,260.1 L803.5,260.1 L804.5,260.2 L805.5,260.3 L806.5,260.4 L807.5,260.5 L808.5,260.6 L809.5,260.6 L810.5,260.7 L811.5,260.8 L812.5,260.9 L813.5,261.0 L814.5,261.1 L815.5,261.1 L816.5,261.2 L817.5,261.3 L818.5,261.4 L819.5,261.5 L820.5,261.5 L821.5,261.6 L822.5,261.7 L823.5,261.7 L824.5,261.8 L825.5,261.9 L826.5,262.0 L827.5,262.0 L828.5,262.1 L829.5,262.2 L830.5,262.2 L831.5,262.3 L832.5,262.4 L833.4,262.4 L834.4,262.5 L835.4,262.6 L836.4,262.6 L837.4,262.7 L838.4,262.8 L839.4,262.8 L840.4,262.9 L841.4,263.0 L842.4,263.0 L843.4,263.1 L844.4,263.2 L845.4,263.2 L846.4,263.3 L847.4,263.3 L848.4,263.4 L849.4,263.4 L850.4,263.5 L851.4,263.5 L852.4,263.6 L853.4,263.6 L854.4,263.7 L855.4,263.7 L856.4,263.8 L857.4,263.8 L858.4,263.9 L859.4,263.9 L860.4,263.9 L861.4,264.0 L862.4,264.0 L863.4,264.1 L864.4,264.1 L865.4,264.1 L866.4,264.2 L867.4,264.2 L868.4,264.3 L869.4,264.3 L870.4,264.3 L871.4,264.4 L872.4,264.4 L873.4,264.4 L874.4,264.5 L875.4,264.5 L876.4,264.6 L877.4,264.6 L878.4,264.6 L879.4,264.7 L880.4,264.7 L881.4,264.8 L882.4,264.8 L883.4,264.9 L884.4,264.9 L885.4,264.9 L886.4,265.0 L887.4,265.0 L888.4,265.1 L889.4,265.1 L890.4,265.2 L891.4,265.2 L892.4,265.3 L893.4,265.3 L894.4,265.4 L895.4,265.4 L896.4,265.5 L897.4,265.5 L898.4,265.5 L899.4,265.6 L900.4,265.6 L901.4,265.7 L902.4,265.7 L903.4,265.7 L904.4,265.8 L905.4,265.8 L906.4,265.9 L907.4,265.9 L908.4,265.9 L909.4,266.0 L910.4,266.0 L911.4,266.0 L912.4,266.1 L913.4,266.1 L914.4,266.2 L915.4,266.2 L916.4,266.2 L917.4,266.3 L918.4,266.3 L919.4,266.4 L920.4,266.4 L921.4,266.4 L922.4,266.5 L923.4,266.5 L924.4,266.5 L925.4,266.6 L926.4,266.6 L927.4,266.7 L928.3,266.7 L929.3,266.7 L930.3,266.8 L931.3,266.8 L932.3,266.9 L933.3,266.9 L934.3,266.9 L935.3,267.0 L936.3,267.0 L937.3,267.0 L938.3,267.1 L939.3,267.1 L940.3,267.2 L941.3,267.2 L942.3,267.2 L943.3,267.3 L944.3,267.3 L945.3,267.3 L946.3,267.4 L947.3,267.4 L948.3,267.5 L949.3,267.5 L950.3,267.5 L951.3,267.6 L952.0,267.6" fill="none" stroke="#13A07A" stroke-width="4" stroke-linecap="round" stroke-dasharray="6.3 11.7"/><path d="M546.5,51.0 L546.9,51.9 L547.3,52.8 L547.8,53.7 L548.2,54.6 L548.6,55.5 L549.0,56.4 L549.4,57.4 L549.9,58.3 L550.3,59.2 L550.7,60.1 L551.1,61.0 L551.5,61.9 L552.0,62.8 L552.4,63.7 L552.8,64.6 L553.2,65.5 L553.7,66.4 L554.1,67.3 L554.5,68.2 L555.0,69.1 L555.4,70.0 L555.8,70.9 L556.3,71.8 L556.7,72.7 L557.2,73.6 L557.6,74.5 L558.1,75.4 L558.5,76.3 L559.0,77.2 L559.5,78.0 L559.9,78.9 L560.4,79.8 L560.9,80.7 L561.4,81.6 L561.9,82.4 L562.4,83.3 L562.8,84.2 L563.3,85.1 L563.8,85.9 L564.3,86.8 L564.8,87.7 L565.3,88.5 L565.8,89.4 L566.3,90.3 L566.8,91.1 L567.3,92.0 L567.8,92.9 L568.3,93.7 L568.8,94.6 L569.3,95.5 L569.8,96.3 L570.3,97.2 L570.8,98.0 L571.3,98.9 L571.9,99.8 L572.4,100.6 L572.9,101.5 L573.4,102.3 L573.9,103.2 L574.4,104.0 L574.9,104.9 L575.5,105.8 L576.0,106.6 L576.5,107.5 L577.0,108.3 L577.5,109.2 L578.0,110.0 L578.6,110.9 L579.1,111.8 L579.6,112.6 L580.1,113.5 L580.6,114.3 L581.2,115.2 L581.7,116.0 L582.3,116.8 L582.8,117.7 L583.4,118.5 L583.9,119.3 L584.5,120.2 L585.1,121.0 L585.6,121.8 L586.2,122.6 L586.8,123.4 L587.4,124.2 L588.0,125.0 L588.6,125.8 L589.2,126.6 L589.8,127.4 L590.4,128.2 L591.0,129.0 L591.7,129.8 L592.3,130.6 L592.9,131.3 L593.5,132.1 L594.2,132.9 L594.8,133.6 L595.5,134.4 L596.1,135.2 L596.8,135.9 L597.4,136.7 L598.1,137.4 L598.8,138.2 L599.4,138.9 L600.1,139.7 L600.8,140.4 L601.5,141.1 L602.2,141.8 L602.9,142.6 L603.6,143.3 L604.3,144.0 L604.9,144.7 L605.6,145.4 L606.3,146.1 L607.0,146.9 L607.7,147.6 L608.4,148.3 L609.1,149.0 L609.9,149.7 L610.6,150.4 L611.3,151.1 L612.0,151.8 L612.7,152.5 L613.4,153.2 L614.1,153.9 L614.8,154.6 L615.5,155.3 L616.3,156.0 L617.0,156.7 L617.7,157.4 L618.4,158.1 L619.1,158.8 L619.8,159.5 L620.5,160.2 L621.3,160.9 L622.0,161.6 L622.7,162.3 L623.4,163.0 L624.1,163.7 L624.8,164.4 L625.6,165.1 L626.3,165.8 L627.0,166.5 L627.7,167.2 L628.4,167.9 L629.1,168.6 L629.9,169.3 L630.6,170.0 L631.3,170.7 L632.0,171.4 L632.7,172.1 L633.5,172.8 L634.2,173.5 L634.9,174.1 L635.6,174.8 L636.4,175.5 L637.1,176.2 L637.8,176.9 L638.5,177.6 L639.3,178.3 L640.0,178.9 L640.7,179.6 L641.5,180.3 L642.2,181.0 L642.9,181.7 L643.7,182.3 L644.4,183.0 L645.2,183.6 L646.0,184.3 L646.7,184.9 L647.5,185.6 L648.3,186.2 L649.0,186.8 L649.8,187.5 L650.6,188.1 L651.4,188.7 L652.2,189.3 L653.0,189.9 L653.7,190.6 L654.5,191.2 L655.3,191.8 L656.1,192.4 L657.0,192.9 L657.8,193.5 L658.6,194.1 L659.4,194.7 L660.2,195.2 L661.1,195.8 L661.9,196.3 L662.7,196.9 L663.6,197.4 L664.4,198.0 L665.3,198.5 L666.1,199.0 L667.0,199.5 L667.9,200.0 L668.7,200.5 L669.6,201.0 L670.4,201.5 L671.3,202.0 L672.2,202.5 L673.1,203.0 L673.9,203.5 L674.8,204.0 L675.7,204.5 L676.5,205.0 L677.4,205.5 L678.3,206.0 L679.1,206.5 L680.0,207.0 L680.9,207.4 L681.8,207.9 L682.6,208.4 L683.5,208.9 L684.4,209.4 L685.3,209.8 L686.2,210.3 L687.0,210.8 L687.9,211.2 L688.8,211.7 L689.7,212.2 L690.6,212.6 L691.5,213.1 L692.4,213.5 L693.3,213.9 L694.2,214.3 L695.1,214.8 L696.0,215.2 L696.9,215.6 L697.9,216.0 L698.8,216.4 L699.7,216.8 L700.6,217.2 L701.5,217.5 L702.5,217.9 L703.4,218.3 L704.3,218.7 L705.2,219.1 L706.2,219.5 L707.1,219.8 L708.0,220.2 L708.9,220.6 L709.8,221.0 L710.8,221.4 L711.7,221.8 L712.6,222.2 L713.5,222.5 L714.5,222.9 L715.4,223.3 L716.3,223.7 L717.2,224.1 L718.2,224.4 L719.1,224.8 L720.0,225.2 L720.9,225.5 L721.9,225.9 L722.8,226.3 L723.8,226.6 L724.7,227.0 L725.6,227.3 L726.6,227.6 L727.5,228.0 L728.5,228.3 L729.4,228.6 L730.4,228.9 L731.3,229.2 L732.3,229.5 L733.2,229.8 L734.2,230.1 L735.1,230.4 L736.1,230.7 L737.0,231.0 L738.0,231.3 L739.0,231.6 L739.9,231.9 L740.9,232.2 L741.8,232.5 L742.8,232.8 L743.7,233.1 L744.7,233.4 L745.6,233.6 L746.6,233.9 L747.6,234.2 L748.5,234.5 L749.5,234.8 L750.4,235.1 L751.4,235.3 L752.4,235.6 L753.3,235.9 L754.3,236.2 L755.3,236.4 L756.2,236.7 L757.2,237.0 L758.1,237.3 L759.1,237.5 L760.1,237.8 L761.0,238.1 L762.0,238.4 L762.9,238.7 L763.9,238.9 L764.9,239.2 L765.8,239.5 L766.8,239.8 L767.7,240.1 L768.7,240.3 L769.7,240.6 L770.6,240.9 L771.6,241.2 L772.5,241.4 L773.5,241.7 L774.5,241.9 L775.4,242.2 L776.4,242.5 L777.4,242.7 L778.3,243.0 L779.3,243.2 L780.3,243.5 L781.2,243.7 L782.2,244.0 L783.2,244.2 L784.2,244.5 L785.1,244.7 L786.1,245.0 L787.1,245.2 L788.0,245.4 L789.0,245.7 L790.0,245.9 L791.0,246.1 L791.9,246.4 L792.9,246.6 L793.9,246.8 L794.9,247.0 L795.8,247.2 L796.8,247.5 L797.8,247.7 L798.8,247.9 L799.7,248.1 L800.7,248.3 L801.7,248.5 L802.7,248.7 L803.7,248.9 L804.6,249.1 L805.6,249.3 L806.6,249.5 L807.6,249.7 L808.6,249.9 L809.5,250.1 L810.5,250.3 L811.5,250.5 L812.5,250.6 L813.5,250.8 L814.4,251.0 L815.4,251.2 L816.4,251.4 L817.4,251.6 L818.4,251.7 L819.4,251.9 L820.3,252.1 L821.3,252.3 L822.3,252.5 L823.3,252.6 L824.3,252.8 L825.3,253.0 L826.3,253.1 L827.2,253.3 L828.2,253.5 L829.2,253.6 L830.2,253.8 L831.2,254.0 L832.2,254.1 L833.2,254.3 L834.2,254.4 L835.1,254.6 L836.1,254.7 L837.1,254.9 L838.1,255.0 L839.1,255.2 L840.1,255.3 L841.1,255.5 L842.1,255.6 L843.1,255.7 L844.0,255.9 L845.0,256.0 L846.0,256.2 L847.0,256.3 L848.0,256.5 L849.0,256.6 L850.0,256.8 L851.0,256.9 L852.0,257.1 L852.9,257.3 L853.9,257.4 L854.9,257.6 L855.9,257.7 L856.9,257.9 L857.9,258.0 L858.9,258.1 L859.9,258.3 L860.9,258.4 L861.8,258.5 L862.8,258.7 L863.8,258.8 L864.8,258.9 L865.8,259.0 L866.8,259.2 L867.8,259.3 L868.8,259.4 L869.8,259.5 L870.8,259.6 L871.8,259.7 L872.8,259.8 L873.8,259.9 L874.8,260.0 L875.8,260.1 L876.8,260.2 L877.7,260.3 L878.7,260.4 L879.7,260.5 L880.7,260.7 L881.7,260.8 L882.7,260.9 L883.7,261.0 L884.7,261.1 L885.7,261.2 L886.0,261.2" fill="none" stroke="#A786F9" stroke-width="4" stroke-linecap="round" stroke-dasharray="6.3 11.7"/><path d="M568.9,94.1 L613.0,155.2 L646.7,187.0" fill="none" stroke="#B57BFD" stroke-width="2.3"/><path d="M568.9,79.9 L572.7,88.8 L582.4,89.7 L575.1,96.1 L577.2,105.6 L568.9,100.6 L560.6,105.6 L562.7,96.1 L555.4,89.7 L565.1,88.8Z" fill="#B57BFD"/><path d="M613.0,141.0 L616.8,149.9 L626.5,150.8 L619.2,157.2 L621.3,166.7 L613.0,161.7 L604.7,166.7 L606.8,157.2 L599.5,150.8 L609.2,149.9Z" fill="#B57BFD"/><path d="M646.7,172.8 L650.5,181.7 L660.2,182.6 L652.9,189.0 L655.0,198.5 L646.7,193.5 L638.4,198.5 L640.5,189.0 L633.2,182.6 L642.9,181.7Z" fill="#B57BFD"/><path d="M681.4,224.2 L736.0,246.8 L773.4,255.6" fill="none" stroke="#3CB874" stroke-width="2.3"/><path d="M681.4,210.0 L685.2,218.9 L694.9,219.8 L687.6,226.2 L689.7,235.7 L681.4,230.7 L673.1,235.7 L675.2,226.2 L667.9,219.8 L677.6,218.9Z" fill="#3CB874"/><path d="M736.0,232.6 L739.8,241.5 L749.5,242.4 L742.2,248.8 L744.3,258.3 L736.0,253.3 L727.7,258.3 L729.8,248.8 L722.5,242.4 L732.2,241.5Z" fill="#3CB874"/><path d="M773.4,241.4 L777.2,250.3 L786.9,251.2 L779.6,257.6 L781.7,267.1 L773.4,262.1 L765.1,267.1 L767.2,257.6 L759.9,251.2 L769.6,250.3Z" fill="#3CB874"/><path d="M768.1,265.2 L828.9,273.0 L871.0,274.9" fill="none" stroke="#FE8C33" stroke-width="2.3"/><path d="M768.1,251.0 L771.9,259.9 L781.6,260.8 L774.3,267.2 L776.4,276.7 L768.1,271.7 L759.8,276.7 L761.9,267.2 L754.6,260.8 L764.3,259.9Z" fill="#FE8C33"/><path d="M828.9,258.8 L832.7,267.7 L842.4,268.6 L835.1,275.0 L837.2,284.5 L828.9,279.5 L820.6,284.5 L822.7,275.0 L815.4,268.6 L825.1,267.7Z" fill="#FE8C33"/><path d="M871.0,260.7 L874.8,269.6 L884.5,270.5 L877.2,276.9 L879.3,286.4 L871.0,281.4 L862.7,286.4 L864.8,276.9 L857.5,270.5 L867.2,269.6Z" fill="#FE8C33"/><path d="M795.9,272.8 L834.5,273.6 L856.6,273.3" fill="none" stroke="#808080" stroke-width="2.3"/><path d="M795.9,258.6 L799.7,267.5 L809.4,268.4 L802.1,274.8 L804.2,284.3 L795.9,279.3 L787.6,284.3 L789.7,274.8 L782.4,268.4 L792.1,267.5Z" fill="#808080"/><path d="M834.5,259.4 L838.3,268.3 L848.0,269.2 L840.7,275.6 L842.8,285.1 L834.5,280.1 L826.2,285.1 L828.3,275.6 L821.0,269.2 L830.7,268.3Z" fill="#808080"/><path d="M856.6,259.1 L860.4,268.0 L870.1,268.9 L862.8,275.3 L864.9,284.8 L856.6,279.8 L848.3,284.8 L850.4,275.3 L843.1,268.9 L852.8,268.0Z" fill="#808080"/><text x="708" y="94.3" font-size="29">Indirect</text><text x="815.5" y="94.3" font-size="29">Direct</text><path d="M724,117.0H767" stroke="#A786F9" stroke-width="4" stroke-linecap="round" stroke-dasharray="6.3 11.7"/><path d="M805.5,117.0H857.8" stroke="#B57BFD" stroke-width="2.3" stroke-linecap="round"/><path d="M831.5,102.8 L835.3,111.7 L845.0,112.6 L837.7,119.0 L839.8,128.5 L831.5,123.5 L823.2,128.5 L825.3,119.0 L818.0,112.6 L827.7,111.7Z" fill="#B57BFD"/><text x="874" y="125.0" font-size="22.5">0-5 T</text><path d="M724,145.6H767" stroke="#13A07A" stroke-width="4" stroke-linecap="round" stroke-dasharray="6.3 11.7"/><path d="M805.5,145.6H857.8" stroke="#3CB874" stroke-width="2.3" stroke-linecap="round"/><path d="M831.5,131.4 L835.3,140.3 L845.0,141.2 L837.7,147.6 L839.8,157.1 L831.5,152.1 L823.2,157.1 L825.3,147.6 L818.0,141.2 L827.7,140.3Z" fill="#3CB874"/><text x="874" y="153.6" font-size="22.5">0-2 T</text><path d="M724,174.2H767" stroke="#E9A116" stroke-width="4" stroke-linecap="round" stroke-dasharray="6.3 11.7"/><path d="M805.5,174.2H857.8" stroke="#FE8C33" stroke-width="2.3" stroke-linecap="round"/><path d="M831.5,160.0 L835.3,168.9 L845.0,169.8 L837.7,176.2 L839.8,185.7 L831.5,180.7 L823.2,185.7 L825.3,176.2 L818.0,169.8 L827.7,168.9Z" fill="#FE8C33"/><text x="874" y="182.2" font-size="22.5">0-1 T</text><path d="M724,202.8H767" stroke="#858585" stroke-width="4" stroke-linecap="round" stroke-dasharray="6.3 11.7"/><path d="M805.5,202.8H857.8" stroke="#808080" stroke-width="2.3" stroke-linecap="round"/><path d="M831.5,188.6 L835.3,197.5 L845.0,198.4 L837.7,204.8 L839.8,214.3 L831.5,209.3 L823.2,214.3 L825.3,204.8 L818.0,198.4 L827.7,197.5Z" fill="#808080"/><text x="874" y="210.8" font-size="22.5">0-0.5 T</text><text x="543.2" y="332" font-size="28.5" text-anchor="middle">4</text><text x="620.3" y="332" font-size="28.5" text-anchor="middle">2</text><text x="697.3" y="332" font-size="28.5" text-anchor="middle">1</text><text x="774.3" y="332" font-size="28.5" text-anchor="middle">0.5</text><text x="851.4" y="332" font-size="28.5" text-anchor="middle">0.25</text><text x="928.4" y="332" font-size="28.5" text-anchor="middle">0.125</text><text x="530" y="277.1" font-size="28.5" text-anchor="end">0</text><text x="530" y="212.5" font-size="28.5" text-anchor="end">1</text><text x="530" y="148.0" font-size="28.5" text-anchor="end">2</text><text x="530" y="83.5" font-size="28.5" text-anchor="end">3</text><text x="711" y="372.8" font-size="32.5"><tspan font-style="italic">T</tspan> (K)</text><text transform="translate(492.2,229) rotate(-90)" font-size="33">Δ<tspan font-style="italic">T</tspan><tspan font-size="23" dy="9.5">ad</tspan><tspan dy="-9.5"> (K)</tspan></text>
</svg></body></html>
